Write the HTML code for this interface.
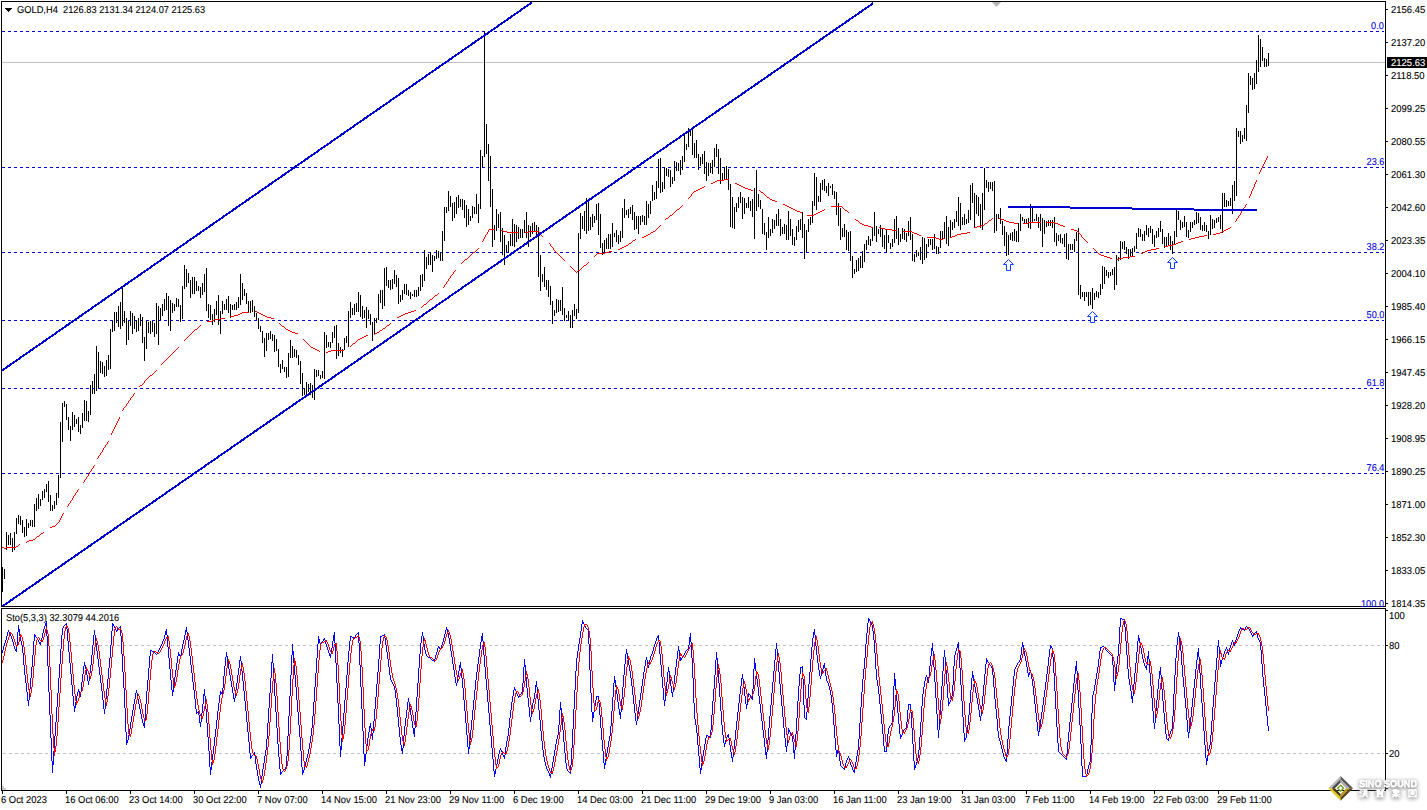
<!DOCTYPE html><html><head><meta charset="utf-8"><title>GOLD,H4</title>
<style>html,body{margin:0;padding:0;background:#fff;}body{width:1427px;height:810px;overflow:hidden;position:relative;font-family:"Liberation Sans",sans-serif;}
svg{position:absolute;left:0;top:0;}
.t{position:absolute;white-space:nowrap;font-size:10px;line-height:10px;color:#000;transform-origin:0 50%;-webkit-text-stroke:0.1px currentColor;transform:matrix(1,0.0005,0,1,0,0);}
.pl{transform:matrix(0.95,0.0005,0,1,0,0);}.tl{transform:matrix(0.94,0.0005,0,1,0,0);}.ti{transform:matrix(0.93,0.0005,0,1,0,0);}.f{color:#0000dc;transform-origin:100% 50%;transform:matrix(0.92,0.0005,0,1,0,0);}
</style></head><body>
<svg width="1427" height="810" viewBox="0 0 1427 810">
<g stroke="#0000cd" stroke-width="1" stroke-dasharray="3 3" shape-rendering="crispEdges">
<line x1="2" y1="31.5" x2="1384" y2="31.5"/>
<line x1="2" y1="167.5" x2="1384" y2="167.5"/>
<line x1="2" y1="252.5" x2="1384" y2="252.5"/>
<line x1="2" y1="320.5" x2="1384" y2="320.5"/>
<line x1="2" y1="388.5" x2="1384" y2="388.5"/>
<line x1="2" y1="473.5" x2="1384" y2="473.5"/>
</g>
<line x1="2" y1="62.5" x2="1385" y2="62.5" stroke="#c0c0c0" stroke-width="1" shape-rendering="crispEdges"/>
<g stroke="#c0c0c0" stroke-width="1" stroke-dasharray="3 3" shape-rendering="crispEdges">
<line x1="3" y1="645.5" x2="1384" y2="645.5"/><line x1="3" y1="753.5" x2="1384" y2="753.5"/>
</g>
<path d="M2.5 567V592M4.5 569V579M6.5 532V550M8.5 535V545M10.5 533V545M12.5 538V552M14.5 532V550M16.5 518V534M18.5 515V524M20.5 516V525M22.5 520V533M24.5 527V537M26.5 519V536M28.5 523V528M30.5 520V526M32.5 520V527M34.5 504V527M36.5 498V511M38.5 494V509M40.5 499V506M42.5 491V500M44.5 489V498M46.5 484V492M48.5 481V502M50.5 495V511M52.5 505V511M54.5 501V509M56.5 493V505M58.5 475V498M60.5 422V478M62.5 403V442M64.5 401V407M66.5 404V420M68.5 417V430M70.5 426V441M72.5 412V430M74.5 415V427M76.5 419V424M78.5 417V432M80.5 425V434M82.5 413V428M84.5 400V421M86.5 401V421M88.5 411V422M90.5 385V415M92.5 381V394M94.5 374V394M96.5 346V391M98.5 352V388M100.5 361V373M102.5 362V374M104.5 366V377M106.5 360V376M108.5 355V370M110.5 329V369M112.5 321V332M114.5 312V331M116.5 312V323M118.5 306V327M120.5 302V329M122.5 288V326M124.5 311V323M126.5 318V345M128.5 321V340M130.5 311V326M132.5 313V334M134.5 316V329M136.5 320V332M138.5 318V331M140.5 314V326M142.5 317V343M144.5 337V361M146.5 321V349M148.5 322V333M150.5 321V334M152.5 321V332M154.5 323V337M156.5 303V334M158.5 306V345M160.5 308V320M162.5 304V316M164.5 299V311M166.5 293V310M168.5 296V326M170.5 300V331M172.5 303V313M174.5 304V311M176.5 298V307M178.5 299V307M180.5 305V322M182.5 286V319M184.5 265V289M186.5 269V287M188.5 273V283M190.5 280V298M192.5 277V294M194.5 277V294M196.5 281V291M198.5 286V291M200.5 287V298M202.5 283V295M204.5 274V292M206.5 268V311M208.5 304V318M210.5 305V320M212.5 314V325M214.5 309V322M216.5 301V315M218.5 295V325M220.5 311V334M222.5 301V314M224.5 304V310M226.5 299V310M228.5 296V313M230.5 304V318M232.5 305V310M234.5 304V310M236.5 302V310M238.5 297V308M240.5 274V305M242.5 283V300M244.5 289V296M246.5 293V304M248.5 301V312M250.5 301V313M252.5 300V312M254.5 306V317M256.5 313V320M258.5 318V329M260.5 326V332M262.5 331V343M264.5 338V357M266.5 333V351M268.5 333V340M270.5 331V339M272.5 334V341M274.5 335V352M276.5 339V351M278.5 349V367M280.5 364V373M282.5 360V369M284.5 367V372M286.5 367V378M288.5 353V377M290.5 340V358M292.5 346V358M294.5 349V357M296.5 350V358M298.5 355V365M300.5 361V384M302.5 373V396M304.5 388V395M306.5 382V394M308.5 384V392M310.5 383V395M312.5 385V398M314.5 369V400M316.5 370V377M318.5 370V376M320.5 375V379M322.5 371V378M324.5 332V379M326.5 335V348M328.5 342V347M330.5 342V348M332.5 332V343M334.5 326V338M336.5 325V359M338.5 343V356M340.5 347V353M342.5 349V357M344.5 338V350M346.5 336V343M348.5 311V347M350.5 302V318M352.5 308V315M354.5 304V315M356.5 303V312M358.5 292V312M360.5 295V317M362.5 306V319M364.5 310V318M366.5 307V328M368.5 310V319M370.5 314V325M372.5 322V341M374.5 318V335M376.5 318V323M378.5 294V320M380.5 290V303M382.5 290V309M384.5 268V306M386.5 267V286M388.5 280V288M390.5 280V290M392.5 279V289M394.5 270V284M396.5 275V287M398.5 278V304M400.5 295V302M402.5 290V300M404.5 284V294M406.5 284V295M408.5 290V296M410.5 292V299M412.5 294V296M414.5 290V297M416.5 290V297M418.5 287V296M420.5 275V291M422.5 274V287M424.5 250V281M426.5 257V269M428.5 254V265M430.5 252V265M432.5 255V272M434.5 256V261M436.5 250V259M438.5 251V258M440.5 252V261M442.5 231V261M444.5 207V241M446.5 207V213M448.5 191V211M450.5 196V207M452.5 203V221M454.5 202V218M456.5 197V214M458.5 195V208M460.5 199V207M462.5 199V210M464.5 200V218M466.5 205V227M468.5 209V225M470.5 216V221M472.5 206V218M474.5 207V214M476.5 194V214M478.5 204V223M480.5 150V209M482.5 156V167M484.5 31V157M486.5 124V154M488.5 144V181M490.5 156V207M492.5 189V247M494.5 225V240M496.5 209V231M498.5 214V228M500.5 212V242M502.5 228V255M504.5 235V265M506.5 245V252M508.5 241V252M510.5 234V246M512.5 219V246M514.5 224V247M516.5 225V242M518.5 227V239M520.5 229V238M522.5 229V238M524.5 220V233M526.5 212V238M528.5 225V247M530.5 226V237M532.5 223V234M534.5 222V232M536.5 225V235M538.5 227V277M540.5 255V291M542.5 274V282M544.5 267V287M546.5 280V290M548.5 280V297M550.5 286V305M552.5 301V324M554.5 310V316M556.5 299V313M558.5 300V312M560.5 300V311M562.5 287V315M564.5 308V321M566.5 315V318M568.5 311V321M570.5 315V328M572.5 310V328M574.5 304V316M576.5 309V319M578.5 233V313M580.5 213V239M582.5 216V229M584.5 211V231M586.5 198V234M588.5 200V231M590.5 217V230M592.5 214V227M594.5 216V223M596.5 204V220M598.5 203V235M600.5 214V248M602.5 243V255M604.5 240V254M606.5 238V249M608.5 234V249M610.5 234V249M612.5 223V247M614.5 233V237M616.5 230V242M618.5 235V244M620.5 231V242M622.5 208V238M624.5 199V218M626.5 210V215M628.5 209V218M630.5 207V214M632.5 205V220M634.5 212V230M636.5 216V229M638.5 216V234M640.5 216V225M642.5 215V222M644.5 216V225M646.5 201V225M648.5 204V218M650.5 201V214M652.5 185V201M654.5 192V200M656.5 181V199M658.5 159V188M660.5 158V193M662.5 182V192M664.5 167V189M666.5 168V176M668.5 169V177M670.5 170V187M672.5 177V184M674.5 161V181M676.5 162V171M678.5 163V171M680.5 160V175M682.5 156V170M684.5 134V162M686.5 144V150M688.5 128V147M690.5 130V136M692.5 130V155M694.5 143V158M696.5 140V158M698.5 154V170M700.5 157V166M702.5 154V164M704.5 151V174M706.5 162V181M708.5 163V176M710.5 163V173M712.5 160V174M714.5 148V167M716.5 144V157M718.5 149V174M720.5 158V184M722.5 173V181M724.5 167V180M726.5 166V180M728.5 169V190M730.5 184V227M732.5 197V228M734.5 207V229M736.5 203V212M738.5 197V208M740.5 192V203M742.5 197V219M744.5 198V214M746.5 203V208M748.5 197V208M750.5 201V211M752.5 199V217M754.5 188V239M756.5 170V211M758.5 194V207M760.5 200V209M762.5 209V234M764.5 223V235M766.5 232V250M768.5 217V238M770.5 229V236M772.5 219V233M774.5 220V229M776.5 214V226M778.5 209V226M780.5 219V236M782.5 227V234M784.5 224V234M786.5 225V240M788.5 211V240M790.5 219V236M792.5 229V245M794.5 237V246M796.5 226V240M798.5 220V232M800.5 219V230M802.5 212V238M804.5 224V259M806.5 230V252M808.5 219V232M810.5 217V225M812.5 201V223M814.5 173V206M816.5 177V210M818.5 196V202M820.5 183V202M822.5 180V190M824.5 179V191M826.5 186V193M828.5 183V196M830.5 186V188M832.5 184V195M834.5 191V199M836.5 192V215M838.5 203V226M840.5 208V240M842.5 228V237M844.5 224V237M846.5 230V250M848.5 232V251M850.5 231V261M852.5 256V278M854.5 269V274M856.5 260V272M858.5 258V271M860.5 256V268M862.5 251V268M864.5 244V262M866.5 240V250M868.5 236V245M870.5 239V246M872.5 228V241M874.5 212V236M876.5 226V242M878.5 229V234M880.5 225V237M882.5 228V247M884.5 235V249M886.5 230V252M888.5 235V243M890.5 243V249M892.5 239V247M894.5 219V243M896.5 216V239M898.5 228V245M900.5 234V242M902.5 228V239M904.5 229V240M906.5 233V242M908.5 221V236M910.5 217V240M912.5 234V261M914.5 254V262M916.5 250V257M918.5 252V256M920.5 247V260M922.5 237V264M924.5 238V260M926.5 244V258M928.5 239V247M930.5 239V245M932.5 239V250M934.5 234V249M936.5 246V254M938.5 247V254M940.5 231V248M942.5 231V239M944.5 222V239M946.5 216V244M948.5 227V246M950.5 220V237M952.5 222V230M954.5 219V228M956.5 211V222M958.5 197V226M960.5 203V230M962.5 217V225M964.5 214V225M966.5 219V224M968.5 210V223M970.5 185V220M972.5 183V203M974.5 193V228M976.5 195V214M978.5 197V216M980.5 204V228M982.5 193V230M984.5 168V210M986.5 180V188M988.5 182V192M990.5 182V189M992.5 182V191M994.5 181V233M996.5 214V231M998.5 214V219M1000.5 208V224M1002.5 221V235M1004.5 226V246M1006.5 232V256M1008.5 235V255M1010.5 233V240M1012.5 232V241M1014.5 229V241M1016.5 231V242M1018.5 223V242M1020.5 214V231M1022.5 217V221M1024.5 219V223M1026.5 219V224M1028.5 218V228M1030.5 204V229M1032.5 208V222M1034.5 219V221M1036.5 214V221M1038.5 217V228M1040.5 214V231M1042.5 218V247M1044.5 220V234M1046.5 221V227M1048.5 220V226M1050.5 220V226M1052.5 220V228M1054.5 217V242M1056.5 233V246M1058.5 235V241M1060.5 234V243M1062.5 238V244M1064.5 234V247M1066.5 233V259M1068.5 244V260M1070.5 244V250M1072.5 244V250M1074.5 239V252M1076.5 232V241M1078.5 228V295M1080.5 285V299M1082.5 292V297M1084.5 292V301M1086.5 292V297M1088.5 292V306M1090.5 292V305M1092.5 288V309M1094.5 293V300M1096.5 291V297M1098.5 292V298M1100.5 284V295M1102.5 266V289M1104.5 267V284M1106.5 270V276M1108.5 272V278M1110.5 272V276M1112.5 269V275M1114.5 267V290M1116.5 255V285M1118.5 257V261M1120.5 241V260M1122.5 242V249M1124.5 241V250M1126.5 247V254M1128.5 249V259M1130.5 249V256M1132.5 248V256M1134.5 246V252M1136.5 233V249M1138.5 228V237M1140.5 229V237M1142.5 234V241M1144.5 231V241M1146.5 225V235M1148.5 228V237M1150.5 226V233M1152.5 229V244M1154.5 235V247M1156.5 231V238M1158.5 228V237M1160.5 221V232M1162.5 229V244M1164.5 237V248M1166.5 237V247M1168.5 233V245M1170.5 236V250M1172.5 241V254M1174.5 231V244M1176.5 210V237M1178.5 211V220M1180.5 220V230M1182.5 222V228M1184.5 216V227M1186.5 222V237M1188.5 230V238M1190.5 222V232M1192.5 222V228M1194.5 220V225M1196.5 212V224M1198.5 213V223M1200.5 217V230M1202.5 225V231M1204.5 222V231M1206.5 225V232M1208.5 231V239M1210.5 215V235M1212.5 219V229M1214.5 220V228M1216.5 218V223M1218.5 217V222M1220.5 215V229M1222.5 193V233M1224.5 193V207M1226.5 200V207M1228.5 201V206M1230.5 198V206M1232.5 185V214M1234.5 181V201M1236.5 128V196M1238.5 131V137M1240.5 131V144M1242.5 135V142M1244.5 128V139M1246.5 105V141M1248.5 73V113M1250.5 76V85M1252.5 78V90M1254.5 73V89M1256.5 60V84M1258.5 35V72M1260.5 39V67M1262.5 47V61M1264.5 58V67M1266.5 59V67M1268.5 53V66" stroke="#000" stroke-width="1" fill="none" shape-rendering="crispEdges"/>
<path d="M1267 156.5H1268M1267 157.5H1268M1266 158.5H1267M1266 159.5H1267M1265 160.5H1266M1265 161.5H1266M1264 162.5H1265M1264 163.5H1265M1263 164.5H1264M1263 165.5H1264M1262 166.5H1263M1262 167.5H1263M1261 168.5H1262M1261 169.5H1262M1260 170.5H1261M1260 171.5H1261M1259 172.5H1260M1259 173.5H1260M724 179.5H729M717 180.5H724M1256 180.5H1257M715 181.5H717M1256 181.5H1257M713 182.5H715M1255 182.5H1256M711 183.5H713M735 183.5H737M1255 183.5H1256M737 184.5H739M1254 184.5H1255M739 185.5H741M1254 185.5H1255M704 186.5H705M741 186.5H743M1254 186.5H1255M702 187.5H704M743 187.5H745M1253 187.5H1254M700 188.5H702M745 188.5H748M1253 188.5H1254M698 189.5H700M748 189.5H751M1252 189.5H1253M696 190.5H698M751 190.5H753M759 190.5H760M1252 190.5H1253M694 191.5H696M760 191.5H761M1251 191.5H1252M693 192.5H694M761 192.5H763M1251 192.5H1252M692 193.5H693M763 193.5H764M1251 193.5H1252M691 194.5H692M764 194.5H765M1250 194.5H1251M691 195.5H692M765 195.5H766M1250 195.5H1251M690 196.5H691M766 196.5H767M1249 196.5H1250M689 197.5H690M767 197.5H769M1249 197.5H1250M688 198.5H689M769 198.5H770M770 199.5H772M772 200.5H775M775 201.5H777M783 204.5H785M1246 204.5H1247M682 205.5H683M785 205.5H787M1245 205.5H1246M681 206.5H682M787 206.5H789M831 206.5H842M1245 206.5H1246M680 207.5H681M789 207.5H791M842 207.5H843M1244 207.5H1245M679 208.5H680M791 208.5H793M843 208.5H844M1243 208.5H1244M677 209.5H679M793 209.5H795M824 209.5H825M844 209.5H845M1243 209.5H1244M676 210.5H677M795 210.5H797M822 210.5H824M845 210.5H847M1242 210.5H1243M675 211.5H676M797 211.5H800M820 211.5H822M847 211.5H848M1241 211.5H1242M674 212.5H675M800 212.5H802M818 212.5H820M848 212.5H849M1241 212.5H1242M673 213.5H674M816 213.5H818M1240 213.5H1241M672 214.5H673M814 214.5H816M1240 214.5H1241M670 215.5H672M807 215.5H814M1239 215.5H1240M669 216.5H670M1238 216.5H1239M668 217.5H669M1238 217.5H1239M666 218.5H668M992 218.5H993M999 218.5H1001M1237 218.5H1238M665 219.5H666M855 219.5H856M991 219.5H992M1001 219.5H1004M1236 219.5H1237M856 220.5H858M989 220.5H991M1004 220.5H1006M1236 220.5H1237M858 221.5H859M988 221.5H989M1006 221.5H1009M1235 221.5H1236M859 222.5H860M987 222.5H988M1009 222.5H1014M1028 222.5H1041M1046 222.5H1055M860 223.5H862M985 223.5H987M1014 223.5H1018M1023 223.5H1028M1055 223.5H1058M862 224.5H864M984 224.5H985M1058 224.5H1060M660 225.5H661M864 225.5H868M981 225.5H984M1060 225.5H1063M659 226.5H660M868 226.5H871M977 226.5H981M1063 226.5H1065M658 227.5H659M871 227.5H873M879 227.5H881M974 227.5H977M1230 227.5H1231M657 228.5H658M881 228.5H885M1228 228.5H1230M489 229.5H495M656 229.5H657M885 229.5H892M1071 229.5H1074M1226 229.5H1228M488 230.5H489M501 230.5H503M655 230.5H656M892 230.5H897M1074 230.5H1077M1224 230.5H1226M488 231.5H489M503 231.5H507M529 231.5H539M653 231.5H655M903 231.5H912M1077 231.5H1078M1222 231.5H1224M487 232.5H488M507 232.5H519M525 232.5H529M539 232.5H540M651 232.5H653M912 232.5H914M967 232.5H970M1078 232.5H1079M1220 232.5H1222M487 233.5H488M540 233.5H541M650 233.5H651M914 233.5H917M961 233.5H967M1079 233.5H1080M1216 233.5H1220M486 234.5H487M540 234.5H541M648 234.5H650M917 234.5H919M957 234.5H961M1080 234.5H1081M1213 234.5H1216M485 235.5H486M541 235.5H542M646 235.5H648M919 235.5H921M955 235.5H957M1081 235.5H1082M1204 235.5H1207M485 236.5H486M542 236.5H543M644 236.5H646M952 236.5H955M1081 236.5H1082M1199 236.5H1204M484 237.5H485M642 237.5H644M927 237.5H936M950 237.5H952M1082 237.5H1083M1195 237.5H1199M484 238.5H485M936 238.5H939M943 238.5H945M1083 238.5H1084M1191 238.5H1195M483 239.5H484M635 239.5H636M939 239.5H943M1084 239.5H1085M1189 239.5H1191M483 240.5H484M633 240.5H635M1085 240.5H1086M482 241.5H483M632 241.5H633M1086 241.5H1087M1181 241.5H1183M631 242.5H632M1087 242.5H1088M1178 242.5H1181M549 243.5H550M629 243.5H631M1176 243.5H1178M550 244.5H551M628 244.5H629M1173 244.5H1176M550 245.5H551M626 245.5H628M1168 245.5H1173M551 246.5H552M624 246.5H626M1164 246.5H1168M552 247.5H553M622 247.5H624M478 248.5H479M553 248.5H554M620 248.5H622M1093 248.5H1094M1156 248.5H1159M477 249.5H478M553 249.5H554M618 249.5H620M1094 249.5H1095M1151 249.5H1156M476 250.5H477M554 250.5H555M1095 250.5H1096M1147 250.5H1151M475 251.5H476M555 251.5H556M609 251.5H612M1096 251.5H1097M1145 251.5H1147M473 252.5H475M556 252.5H557M605 252.5H609M1097 252.5H1098M1143 252.5H1145M472 253.5H473M557 253.5H558M597 253.5H605M1098 253.5H1099M1141 253.5H1143M471 254.5H472M558 254.5H559M596 254.5H597M1099 254.5H1101M470 255.5H471M559 255.5H560M595 255.5H596M1101 255.5H1104M469 256.5H470M560 256.5H561M594 256.5H595M1104 256.5H1107M1130 256.5H1135M468 257.5H469M561 257.5H562M1107 257.5H1110M1123 257.5H1130M467 258.5H468M562 258.5H563M1110 258.5H1112M1119 258.5H1123M465 259.5H467M563 259.5H564M1117 259.5H1119M464 260.5H465M564 260.5H565M463 261.5H464M462 262.5H463M588 262.5H589M461 263.5H462M587 263.5H588M586 264.5H587M584 265.5H586M570 266.5H571M583 266.5H584M571 267.5H572M582 267.5H583M572 268.5H573M581 268.5H582M573 269.5H574M580 269.5H581M455 270.5H456M574 270.5H575M578 270.5H580M454 271.5H455M575 271.5H576M577 271.5H578M453 272.5H454M576 272.5H577M453 273.5H454M452 274.5H453M451 275.5H452M450 276.5H451M450 277.5H451M449 278.5H450M448 279.5H449M448 280.5H449M447 281.5H448M446 282.5H447M446 283.5H447M445 284.5H446M444 285.5H445M444 286.5H445M443 287.5H444M438 293.5H439M437 294.5H438M435 295.5H437M434 296.5H435M433 297.5H434M432 298.5H433M430 299.5H432M429 300.5H430M428 301.5H429M427 302.5H428M426 303.5H427M424 304.5H426M423 305.5H424M422 306.5H423M421 307.5H422M414 310.5H416M255 311.5H257M411 311.5H414M242 312.5H249M257 312.5H259M408 312.5H411M240 313.5H242M259 313.5H261M405 313.5H408M238 314.5H240M261 314.5H263M403 314.5H405M234 315.5H238M263 315.5H265M401 315.5H403M230 316.5H234M265 316.5H267M399 316.5H401M267 317.5H271M397 317.5H399M220 318.5H225M271 318.5H274M214 319.5H220M212 320.5H214M207 321.5H212M279 323.5H280M390 323.5H391M280 324.5H281M389 324.5H390M200 325.5H201M281 325.5H282M387 325.5H389M199 326.5H200M282 326.5H284M386 326.5H387M198 327.5H199M284 327.5H285M385 327.5H386M197 328.5H198M285 328.5H286M383 328.5H385M195 329.5H197M286 329.5H288M382 329.5H383M194 330.5H195M288 330.5H290M380 330.5H382M193 331.5H194M290 331.5H292M379 331.5H380M192 332.5H193M292 332.5H295M377 332.5H379M191 333.5H192M295 333.5H298M375 333.5H377M190 334.5H191M374 334.5H375M189 335.5H190M366 335.5H368M188 336.5H189M364 336.5H366M187 337.5H188M362 337.5H364M186 338.5H187M360 338.5H362M185 339.5H186M303 339.5H304M358 339.5H360M184 340.5H185M304 340.5H305M357 340.5H358M305 341.5H306M356 341.5H357M306 342.5H307M355 342.5H356M307 343.5H308M353 343.5H355M308 344.5H309M352 344.5H353M309 345.5H310M351 345.5H352M310 346.5H311M350 346.5H351M178 347.5H179M311 347.5H313M177 348.5H178M313 348.5H315M176 349.5H177M315 349.5H317M175 350.5H176M317 350.5H319M331 350.5H344M174 351.5H175M319 351.5H320M328 351.5H331M173 352.5H174M326 352.5H328M172 353.5H173M171 354.5H172M170 355.5H171M169 356.5H170M168 357.5H169M167 358.5H168M166 359.5H167M165 360.5H166M164 361.5H165M163 362.5H164M162 363.5H163M161 364.5H162M156 370.5H157M155 371.5H156M154 372.5H155M153 373.5H154M152 374.5H153M150 375.5H152M149 376.5H150M148 377.5H149M147 378.5H148M146 379.5H147M145 380.5H146M144 381.5H145M144 382.5H145M143 383.5H144M142 384.5H143M140 385.5H142M139 386.5H140M134 393.5H135M133 394.5H134M133 395.5H134M132 396.5H133M131 397.5H132M130 398.5H131M130 399.5H131M129 400.5H130M128 401.5H129M128 402.5H129M127 403.5H128M126 404.5H127M126 405.5H127M125 406.5H126M124 407.5H125M123 408.5H124M123 409.5H124M122 410.5H123M119 417.5H120M119 418.5H120M118 419.5H119M118 420.5H119M117 421.5H118M117 422.5H118M116 423.5H117M116 424.5H117M115 425.5H116M115 426.5H116M114 427.5H115M114 428.5H115M113 429.5H114M113 430.5H114M112 431.5H113M112 432.5H113M111 433.5H112M111 434.5H112M108 441.5H109M107 442.5H108M107 443.5H108M106 444.5H107M105 445.5H106M105 446.5H106M104 447.5H105M103 448.5H104M103 449.5H104M102 450.5H103M102 451.5H103M101 452.5H102M100 453.5H101M100 454.5H101M99 455.5H100M98 456.5H99M98 457.5H99M97 458.5H98M94 465.5H95M93 466.5H94M93 467.5H94M92 468.5H93M91 469.5H92M91 470.5H92M90 471.5H91M89 472.5H90M89 473.5H90M88 474.5H89M88 475.5H89M87 476.5H88M86 477.5H87M86 478.5H87M85 479.5H86M84 480.5H85M84 481.5H85M83 482.5H84M78 489.5H79M77 490.5H78M77 491.5H78M76 492.5H77M75 493.5H76M75 494.5H76M74 495.5H75M73 496.5H74M73 497.5H74M72 498.5H73M72 499.5H73M71 500.5H72M70 501.5H71M70 502.5H71M69 503.5H70M68 504.5H69M68 505.5H69M67 506.5H68M63 513.5H64M62 514.5H63M62 515.5H63M61 516.5H62M61 517.5H62M60 518.5H61M60 519.5H61M59 520.5H60M59 521.5H60M58 522.5H59M57 523.5H58M56 524.5H57M55 525.5H56M52 526.5H55M50 527.5H52M43 532.5H44M41 533.5H43M40 534.5H41M39 535.5H40M37 536.5H39M36 537.5H37M35 538.5H36M33 539.5H35M29 540.5H33M27 541.5H29M26 542.5H27M19 544.5H20M18 545.5H19M16 546.5H18M2 547.5H4M6 547.5H16M4 548.5H6" stroke="#ff0000" stroke-width="1" fill="none" shape-rendering="crispEdges"/>
<path d="M530 2.5H532M529 3.5H532M527 4.5H531M526 5.5H529M524 6.5H528M523 7.5H526M521 8.5H525M520 9.5H523M519 10.5H522M517 11.5H521M516 12.5H519M514 13.5H518M513 14.5H516M511 15.5H515M510 16.5H513M508 17.5H512M507 18.5H511M506 19.5H509M504 20.5H508M503 21.5H506M501 22.5H505M500 23.5H503M498 24.5H502M497 25.5H500M496 26.5H499M494 27.5H498M493 28.5H496M491 29.5H495M490 30.5H493M488 31.5H492M487 32.5H490M485 33.5H489M484 34.5H488M483 35.5H486M481 36.5H485M480 37.5H483M478 38.5H482M477 39.5H480M475 40.5H479M474 41.5H477M472 42.5H476M471 43.5H475M470 44.5H473M468 45.5H472M467 46.5H470M465 47.5H469M464 48.5H467M462 49.5H466M461 50.5H464M460 51.5H463M458 52.5H462M457 53.5H460M455 54.5H459M454 55.5H457M452 56.5H456M451 57.5H454M449 58.5H453M448 59.5H452M447 60.5H450M445 61.5H449M444 62.5H447M442 63.5H446M441 64.5H444M439 65.5H443M438 66.5H441M436 67.5H440M435 68.5H439M434 69.5H437M432 70.5H436M431 71.5H434M429 72.5H433M428 73.5H431M426 74.5H430M425 75.5H428M424 76.5H427M422 77.5H426M421 78.5H424M419 79.5H423M418 80.5H421M416 81.5H420M415 82.5H418M413 83.5H417M412 84.5H416M411 85.5H414M409 86.5H413M408 87.5H411M406 88.5H410M405 89.5H408M403 90.5H407M402 91.5H405M400 92.5H404M399 93.5H403M398 94.5H401M396 95.5H400M395 96.5H398M393 97.5H397M392 98.5H395M390 99.5H394M389 100.5H392M388 101.5H391M386 102.5H390M385 103.5H388M383 104.5H387M382 105.5H385M380 106.5H384M379 107.5H382M377 108.5H381M376 109.5H380M375 110.5H378M373 111.5H377M372 112.5H375M370 113.5H374M369 114.5H372M367 115.5H371M366 116.5H369M364 117.5H368M363 118.5H367M362 119.5H365M360 120.5H364M359 121.5H362M357 122.5H361M356 123.5H359M354 124.5H358M353 125.5H356M352 126.5H355M350 127.5H354M349 128.5H352M347 129.5H351M346 130.5H349M344 131.5H348M343 132.5H346M341 133.5H345M340 134.5H344M339 135.5H342M337 136.5H341M336 137.5H339M334 138.5H338M333 139.5H336M331 140.5H335M330 141.5H333M329 142.5H332M327 143.5H331M326 144.5H329M324 145.5H328M323 146.5H326M321 147.5H325M320 148.5H323M318 149.5H322M317 150.5H320M316 151.5H319M314 152.5H318M313 153.5H316M311 154.5H315M310 155.5H313M308 156.5H312M307 157.5H310M305 158.5H309M304 159.5H308M303 160.5H306M301 161.5H305M300 162.5H303M298 163.5H302M297 164.5H300M295 165.5H299M294 166.5H297M293 167.5H296M291 168.5H295M290 169.5H293M288 170.5H292M287 171.5H290M285 172.5H289M284 173.5H287M282 174.5H286M281 175.5H285M280 176.5H283M278 177.5H282M277 178.5H280M275 179.5H279M274 180.5H277M272 181.5H276M271 182.5H274M269 183.5H273M268 184.5H272M267 185.5H270M265 186.5H269M264 187.5H267M262 188.5H266M261 189.5H264M259 190.5H263M258 191.5H261M257 192.5H260M255 193.5H259M254 194.5H257M252 195.5H256M251 196.5H254M249 197.5H253M248 198.5H251M246 199.5H250M245 200.5H249M244 201.5H247M242 202.5H246M241 203.5H244M239 204.5H243M238 205.5H241M236 206.5H240M235 207.5H238M233 208.5H237M232 209.5H236M231 210.5H234M229 211.5H233M228 212.5H231M226 213.5H230M225 214.5H228M223 215.5H227M222 216.5H225M221 217.5H224M219 218.5H223M218 219.5H221M216 220.5H220M215 221.5H218M213 222.5H217M212 223.5H215M210 224.5H214M209 225.5H213M208 226.5H211M206 227.5H210M205 228.5H208M203 229.5H207M202 230.5H205M200 231.5H204M199 232.5H202M197 233.5H201M196 234.5H200M195 235.5H198M193 236.5H197M192 237.5H195M190 238.5H194M189 239.5H192M187 240.5H191M186 241.5H189M185 242.5H188M183 243.5H187M182 244.5H185M180 245.5H184M179 246.5H182M177 247.5H181M176 248.5H179M174 249.5H178M173 250.5H177M172 251.5H175M170 252.5H174M169 253.5H172M167 254.5H171M166 255.5H169M164 256.5H168M163 257.5H166M161 258.5H165M160 259.5H164M159 260.5H162M157 261.5H161M156 262.5H159M154 263.5H158M153 264.5H156M151 265.5H155M150 266.5H153M149 267.5H152M147 268.5H151M146 269.5H149M144 270.5H148M143 271.5H146M141 272.5H145M140 273.5H143M138 274.5H142M137 275.5H141M136 276.5H139M134 277.5H138M133 278.5H136M131 279.5H135M130 280.5H133M128 281.5H132M127 282.5H130M125 283.5H129M124 284.5H128M123 285.5H126M121 286.5H125M120 287.5H123M118 288.5H122M117 289.5H120M115 290.5H119M114 291.5H117M113 292.5H116M111 293.5H115M110 294.5H113M108 295.5H112M107 296.5H110M105 297.5H109M104 298.5H107M102 299.5H106M101 300.5H105M100 301.5H103M98 302.5H102M97 303.5H100M95 304.5H99M94 305.5H97M92 306.5H96M91 307.5H94M90 308.5H93M88 309.5H92M87 310.5H90M85 311.5H89M84 312.5H87M82 313.5H86M81 314.5H84M79 315.5H83M78 316.5H82M77 317.5H80M75 318.5H79M74 319.5H77M72 320.5H76M71 321.5H74M69 322.5H73M68 323.5H71M66 324.5H70M65 325.5H69M64 326.5H67M62 327.5H66M61 328.5H64M59 329.5H63M58 330.5H61M56 331.5H60M55 332.5H58M54 333.5H57M52 334.5H56M51 335.5H54M49 336.5H53M48 337.5H51M46 338.5H50M45 339.5H48M43 340.5H47M42 341.5H46M41 342.5H44M39 343.5H43M38 344.5H41M36 345.5H40M35 346.5H38M33 347.5H37M32 348.5H35M30 349.5H34M29 350.5H33M28 351.5H31M26 352.5H30M25 353.5H28M23 354.5H27M22 355.5H25M20 356.5H24M19 357.5H22M18 358.5H21M16 359.5H20M15 360.5H18M13 361.5H17M12 362.5H15M10 363.5H14M9 364.5H12M7 365.5H11M6 366.5H10M5 367.5H8M3 368.5H7M2 369.5H5M2 370.5H4" stroke="#0000cd" stroke-width="1" fill="none" shape-rendering="crispEdges"/>
<path d="M872 2.5H873M871 3.5H873M870 4.5H873M868 5.5H872M867 6.5H870M865 7.5H869M864 8.5H867M862 9.5H866M861 10.5H864M859 11.5H863M858 12.5H862M857 13.5H860M855 14.5H859M854 15.5H857M852 16.5H856M851 17.5H854M849 18.5H853M848 19.5H851M846 20.5H850M845 21.5H849M844 22.5H847M842 23.5H846M841 24.5H844M839 25.5H843M838 26.5H841M836 27.5H840M835 28.5H838M833 29.5H837M832 30.5H836M831 31.5H834M829 32.5H833M828 33.5H831M826 34.5H830M825 35.5H828M823 36.5H827M822 37.5H825M820 38.5H824M819 39.5H823M818 40.5H821M816 41.5H820M815 42.5H818M813 43.5H817M812 44.5H815M810 45.5H814M809 46.5H812M807 47.5H811M806 48.5H810M805 49.5H808M803 50.5H807M802 51.5H805M800 52.5H804M799 53.5H802M797 54.5H801M796 55.5H799M794 56.5H798M793 57.5H797M792 58.5H795M790 59.5H794M789 60.5H792M787 61.5H791M786 62.5H789M784 63.5H788M783 64.5H786M781 65.5H785M780 66.5H784M779 67.5H782M777 68.5H781M776 69.5H779M774 70.5H778M773 71.5H776M771 72.5H775M770 73.5H773M768 74.5H772M767 75.5H771M766 76.5H769M764 77.5H768M763 78.5H766M761 79.5H765M760 80.5H763M758 81.5H762M757 82.5H760M755 83.5H759M754 84.5H758M753 85.5H756M751 86.5H755M750 87.5H753M748 88.5H752M747 89.5H750M745 90.5H749M744 91.5H747M742 92.5H746M741 93.5H745M740 94.5H743M738 95.5H742M737 96.5H740M735 97.5H739M734 98.5H737M732 99.5H736M731 100.5H734M729 101.5H733M728 102.5H732M727 103.5H730M725 104.5H729M724 105.5H727M722 106.5H726M721 107.5H724M719 108.5H723M718 109.5H721M716 110.5H720M715 111.5H719M714 112.5H717M712 113.5H716M711 114.5H714M709 115.5H713M708 116.5H711M706 117.5H710M705 118.5H708M704 119.5H707M702 120.5H706M701 121.5H704M699 122.5H703M698 123.5H701M696 124.5H700M695 125.5H698M693 126.5H697M692 127.5H695M691 128.5H694M689 129.5H693M688 130.5H691M686 131.5H690M685 132.5H688M683 133.5H687M682 134.5H685M680 135.5H684M679 136.5H682M678 137.5H681M676 138.5H680M675 139.5H678M673 140.5H677M672 141.5H675M670 142.5H674M669 143.5H672M667 144.5H671M666 145.5H669M665 146.5H668M663 147.5H667M662 148.5H665M660 149.5H664M659 150.5H662M657 151.5H661M656 152.5H659M654 153.5H658M653 154.5H656M652 155.5H655M650 156.5H654M649 157.5H652M647 158.5H651M646 159.5H649M644 160.5H648M643 161.5H646M641 162.5H645M640 163.5H644M639 164.5H642M637 165.5H641M636 166.5H639M634 167.5H638M633 168.5H636M631 169.5H635M630 170.5H633M628 171.5H632M627 172.5H631M626 173.5H629M624 174.5H628M623 175.5H626M621 176.5H625M620 177.5H623M618 178.5H622M617 179.5H620M615 180.5H619M614 181.5H618M613 182.5H616M611 183.5H615M610 184.5H613M608 185.5H612M607 186.5H610M605 187.5H609M604 188.5H607M602 189.5H606M601 190.5H605M600 191.5H603M598 192.5H602M597 193.5H600M595 194.5H599M594 195.5H597M592 196.5H596M591 197.5H594M589 198.5H593M588 199.5H592M587 200.5H590M585 201.5H589M584 202.5H587M582 203.5H586M581 204.5H584M579 205.5H583M578 206.5H581M576 207.5H580M575 208.5H579M574 209.5H577M572 210.5H576M571 211.5H574M569 212.5H573M568 213.5H571M566 214.5H570M565 215.5H568M563 216.5H567M562 217.5H566M561 218.5H564M559 219.5H563M558 220.5H561M556 221.5H560M555 222.5H558M553 223.5H557M552 224.5H555M550 225.5H554M549 226.5H553M548 227.5H551M546 228.5H550M545 229.5H548M543 230.5H547M542 231.5H545M540 232.5H544M539 233.5H542M537 234.5H541M536 235.5H540M535 236.5H538M533 237.5H537M532 238.5H535M530 239.5H534M529 240.5H532M527 241.5H531M526 242.5H529M524 243.5H528M523 244.5H527M522 245.5H525M520 246.5H524M519 247.5H522M517 248.5H521M516 249.5H519M514 250.5H518M513 251.5H516M511 252.5H515M510 253.5H514M509 254.5H512M507 255.5H511M506 256.5H509M504 257.5H508M503 258.5H506M501 259.5H505M500 260.5H503M498 261.5H502M497 262.5H501M496 263.5H499M494 264.5H498M493 265.5H496M491 266.5H495M490 267.5H493M488 268.5H492M487 269.5H490M485 270.5H489M484 271.5H488M483 272.5H486M481 273.5H485M480 274.5H483M478 275.5H482M477 276.5H480M475 277.5H479M474 278.5H477M472 279.5H476M471 280.5H475M470 281.5H473M468 282.5H472M467 283.5H470M465 284.5H469M464 285.5H467M462 286.5H466M461 287.5H464M460 288.5H463M458 289.5H462M457 290.5H460M455 291.5H459M454 292.5H457M452 293.5H456M451 294.5H454M449 295.5H453M448 296.5H451M447 297.5H450M445 298.5H449M444 299.5H447M442 300.5H446M441 301.5H444M439 302.5H443M438 303.5H441M436 304.5H440M435 305.5H438M434 306.5H437M432 307.5H436M431 308.5H434M429 309.5H433M428 310.5H431M426 311.5H430M425 312.5H428M423 313.5H427M422 314.5H425M421 315.5H424M419 316.5H423M418 317.5H421M416 318.5H420M415 319.5H418M413 320.5H417M412 321.5H415M410 322.5H414M409 323.5H412M408 324.5H411M406 325.5H410M405 326.5H408M403 327.5H407M402 328.5H405M400 329.5H404M399 330.5H402M397 331.5H401M396 332.5H400M395 333.5H398M393 334.5H397M392 335.5H395M390 336.5H394M389 337.5H392M387 338.5H391M386 339.5H389M384 340.5H388M383 341.5H387M382 342.5H385M380 343.5H384M379 344.5H382M377 345.5H381M376 346.5H379M374 347.5H378M373 348.5H376M371 349.5H375M370 350.5H374M369 351.5H372M367 352.5H371M366 353.5H369M364 354.5H368M363 355.5H366M361 356.5H365M360 357.5H363M358 358.5H362M357 359.5H361M356 360.5H359M354 361.5H358M353 362.5H356M351 363.5H355M350 364.5H353M348 365.5H352M347 366.5H350M345 367.5H349M344 368.5H348M343 369.5H346M341 370.5H345M340 371.5H343M338 372.5H342M337 373.5H340M335 374.5H339M334 375.5H337M332 376.5H336M331 377.5H335M330 378.5H333M328 379.5H332M327 380.5H330M325 381.5H329M324 382.5H327M322 383.5H326M321 384.5H324M319 385.5H323M318 386.5H322M317 387.5H320M315 388.5H319M314 389.5H317M312 390.5H316M311 391.5H314M309 392.5H313M308 393.5H311M306 394.5H310M305 395.5H309M304 396.5H307M302 397.5H306M301 398.5H304M299 399.5H303M298 400.5H301M296 401.5H300M295 402.5H298M293 403.5H297M292 404.5H296M291 405.5H294M289 406.5H293M288 407.5H291M286 408.5H290M285 409.5H288M283 410.5H287M282 411.5H285M280 412.5H284M279 413.5H283M278 414.5H281M276 415.5H280M275 416.5H278M273 417.5H277M272 418.5H275M270 419.5H274M269 420.5H272M267 421.5H271M266 422.5H270M265 423.5H268M263 424.5H267M262 425.5H265M260 426.5H264M259 427.5H262M257 428.5H261M256 429.5H259M254 430.5H258M253 431.5H257M252 432.5H255M250 433.5H254M249 434.5H252M247 435.5H251M246 436.5H249M244 437.5H248M243 438.5H246M241 439.5H245M240 440.5H244M239 441.5H242M237 442.5H241M236 443.5H239M234 444.5H238M233 445.5H236M231 446.5H235M230 447.5H233M229 448.5H232M227 449.5H231M226 450.5H229M224 451.5H228M223 452.5H226M221 453.5H225M220 454.5H223M218 455.5H222M217 456.5H220M216 457.5H219M214 458.5H218M213 459.5H216M211 460.5H215M210 461.5H213M208 462.5H212M207 463.5H210M205 464.5H209M204 465.5H207M203 466.5H206M201 467.5H205M200 468.5H203M198 469.5H202M197 470.5H200M195 471.5H199M194 472.5H197M192 473.5H196M191 474.5H194M190 475.5H193M188 476.5H192M187 477.5H190M185 478.5H189M184 479.5H187M182 480.5H186M181 481.5H184M179 482.5H183M178 483.5H181M177 484.5H180M175 485.5H179M174 486.5H177M172 487.5H176M171 488.5H174M169 489.5H173M168 490.5H171M166 491.5H170M165 492.5H168M164 493.5H167M162 494.5H166M161 495.5H164M159 496.5H163M158 497.5H161M156 498.5H160M155 499.5H158M153 500.5H157M152 501.5H156M151 502.5H154M149 503.5H153M148 504.5H151M146 505.5H150M145 506.5H148M143 507.5H147M142 508.5H145M140 509.5H144M139 510.5H143M138 511.5H141M136 512.5H140M135 513.5H138M133 514.5H137M132 515.5H135M130 516.5H134M129 517.5H132M127 518.5H131M126 519.5H130M125 520.5H128M123 521.5H127M122 522.5H125M120 523.5H124M119 524.5H122M117 525.5H121M116 526.5H119M114 527.5H118M113 528.5H117M112 529.5H115M110 530.5H114M109 531.5H112M107 532.5H111M106 533.5H109M104 534.5H108M103 535.5H106M101 536.5H105M100 537.5H104M99 538.5H102M97 539.5H101M96 540.5H99M94 541.5H98M93 542.5H96M91 543.5H95M90 544.5H93M88 545.5H92M87 546.5H91M86 547.5H89M84 548.5H88M83 549.5H86M81 550.5H85M80 551.5H83M78 552.5H82M77 553.5H80M75 554.5H79M74 555.5H78M73 556.5H76M71 557.5H75M70 558.5H73M68 559.5H72M67 560.5H70M65 561.5H69M64 562.5H67M62 563.5H66M61 564.5H65M60 565.5H63M58 566.5H62M57 567.5H60M55 568.5H59M54 569.5H57M52 570.5H56M51 571.5H54M49 572.5H53M48 573.5H52M47 574.5H50M45 575.5H49M44 576.5H47M42 577.5H46M41 578.5H44M39 579.5H43M38 580.5H41M36 581.5H40M35 582.5H39M34 583.5H37M32 584.5H36M31 585.5H34M29 586.5H33M28 587.5H31M26 588.5H30M25 589.5H28M23 590.5H27M22 591.5H26M21 592.5H24M19 593.5H23M18 594.5H21M16 595.5H20M15 596.5H18M13 597.5H17M12 598.5H15M10 599.5H14M9 600.5H13M8 601.5H11M6 602.5H10M5 603.5H8M3 604.5H7M2 605.5H5M2 606.5H4" stroke="#0000cd" stroke-width="1" fill="none" shape-rendering="crispEdges"/>
<path d="M1008 206H1070V207H1132V208H1194V209H1257V211H1194V210H1132V209H1070V208H1008Z" fill="#0000cd" shape-rendering="crispEdges"/>
<path d="M1008.5 259.5L1003.5 264.5H1006.5V270.5H1010.5V264.5H1013.5Z" fill="#fff" stroke="#1040ff" stroke-width="1"/>
<path d="M1092.5 311.5L1087.5 316.5H1090.5V322.5H1094.5V316.5H1097.5Z" fill="#fff" stroke="#1040ff" stroke-width="1"/>
<path d="M1172.5 257.5L1167.5 262.5H1170.5V268.5H1174.5V262.5H1177.5Z" fill="#fff" stroke="#1040ff" stroke-width="1"/>
<path d="M2.5 650V653M3.5 646V650M4.5 643V646M5.5 640V643M6.5 636V640M7.5 632V636M8.5 630V632M9.5 632V634M10.5 634V636M11.5 636V639M12.5 639V642M13.5 642V646M14.5 646V649M15.5 649V651M16.5 645V652M17.5 632V645M18.5 625V632M19.5 629V636M20.5 636V641M21.5 641V645M22.5 645V653M23.5 653V665M24.5 665V675M25.5 675V683M26.5 683V692M27.5 692V701M28.5 700V706M29.5 689V700M30.5 678V689M31.5 667V678M32.5 655V667M33.5 641V655M34.5 634V641M35.5 635V637M36.5 637V638M37.5 638V640M38.5 640V642M39.5 642V644M40.5 642V645M41.5 638V642M42.5 633V638M43.5 629V633M44.5 626V629M45.5 623V626M46.5 621V636M47.5 636V666M48.5 666V692M49.5 692V715M50.5 715V738M51.5 738V761M52.5 761V773M53.5 751V765M54.5 736V751M55.5 722V736M56.5 707V722M57.5 693V707M58.5 678V693M59.5 664V678M60.5 649V664M61.5 635V649M62.5 628V635M63.5 626V628M64.5 625V626M65.5 624V625M66.5 623V629M67.5 629V641M68.5 641V652M69.5 652V663M70.5 663V674M71.5 674V685M72.5 685V696M73.5 696V706M74.5 706V712M75.5 702V708M76.5 696V702M77.5 692V696M78.5 689V692M79.5 691V695M80.5 692V697M81.5 682V692M82.5 674V682M83.5 666V674M84.5 662V666M85.5 665V669M86.5 669V675M87.5 675V681M88.5 681V685M89.5 673V681M90.5 665V673M91.5 655V665M92.5 645V655M93.5 635V645M94.5 630V635M95.5 635V643M96.5 643V651M97.5 651V659M98.5 659V667M99.5 667V675M100.5 675V683M101.5 683V691M102.5 691V700M103.5 700V709M104.5 709V714M105.5 699V709M106.5 689V699M107.5 679V689M108.5 668V679M109.5 658V668M110.5 645V658M111.5 631V645M112.5 623V631M113.5 624V626M114.5 626V628M115.5 628V630M116.5 630V632M117.5 629V631M118.5 628V629M119.5 627V628M120.5 626V636M121.5 636V654M122.5 654V672M123.5 672V688M124.5 688V708M125.5 708V732M126.5 732V745M127.5 740V743M128.5 735V740M129.5 729V735M130.5 722V729M131.5 716V722M132.5 710V716M133.5 704V710M134.5 699V704M135.5 693V699M136.5 690V693M137.5 693V699M138.5 699V704M139.5 704V709M140.5 709V714M141.5 714V719M142.5 719V723M143.5 723V726M144.5 720V728M145.5 704V720M146.5 691V704M147.5 680V691M148.5 668V680M149.5 656V668M150.5 650V656M151.5 650V651M152.5 651V652M153.5 651V652M154.5 652V653M155.5 653V654M156.5 654V655M157.5 652V654M158.5 650V652M159.5 648V650M160.5 646V648M161.5 644V646M162.5 641V644M163.5 639V641M164.5 635V639M165.5 631V635M166.5 629V635M167.5 635V647M168.5 647V658M169.5 658V669M170.5 669V680M171.5 680V690M172.5 690V696M173.5 684V692M174.5 677V684M175.5 670V677M176.5 663V670M177.5 656V663M178.5 652V656M179.5 654V656M180.5 655V658M181.5 649V655M182.5 644V649M183.5 640V644M184.5 635V640M185.5 630V635M186.5 627V632M187.5 632V640M188.5 640V648M189.5 648V656M190.5 656V665M191.5 665V673M192.5 673V682M193.5 682V690M194.5 690V699M195.5 699V709M196.5 709V714M197.5 712V713M198.5 711V715M199.5 715V723M200.5 722V727M201.5 713V722M202.5 704V713M203.5 694V704M204.5 689V696M205.5 696V709M206.5 709V723M207.5 723V737M208.5 737V751M209.5 751V767M210.5 767V775M211.5 762V770M212.5 754V762M213.5 746V754M214.5 737V746M215.5 729V737M216.5 720V729M217.5 711V720M218.5 703V711M219.5 695V703M220.5 691V695M221.5 692V694M222.5 688V695M223.5 676V688M224.5 666V676M225.5 657V666M226.5 652V657M227.5 656V662M228.5 662V669M229.5 669V675M230.5 675V681M231.5 681V687M232.5 687V693M233.5 693V699M234.5 698V702M235.5 690V698M236.5 683V690M237.5 675V683M238.5 668V675M239.5 660V668M240.5 656V661M241.5 661V671M242.5 671V681M243.5 681V691M244.5 691V701M245.5 701V711M246.5 711V722M247.5 722V732M248.5 732V742M249.5 742V753M250.5 753V759M251.5 756V758M252.5 755V756M253.5 753V755M254.5 752V756M255.5 756V764M256.5 764V770M257.5 770V776M258.5 776V781M259.5 781V785M260.5 784V788M261.5 776V784M262.5 769V776M263.5 763V769M264.5 756V763M265.5 750V756M266.5 739V750M267.5 723V739M268.5 708V723M269.5 693V708M270.5 678V693M271.5 662V678M272.5 654V663M273.5 663V679M274.5 679V696M275.5 696V712M276.5 712V728M277.5 728V744M278.5 744V757M279.5 757V769M280.5 769V775M281.5 772V774M282.5 771V772M283.5 770V771M284.5 769V770M285.5 767V769M286.5 756V767M287.5 736V756M288.5 716V736M289.5 696V716M290.5 675V696M291.5 655V675M292.5 644V655M293.5 651V663M294.5 663V675M295.5 675V687M296.5 687V700M297.5 700V712M298.5 712V725M299.5 725V737M300.5 737V751M301.5 751V767M302.5 767V775M303.5 770V773M304.5 766V770M305.5 762V766M306.5 758V762M307.5 754V758M308.5 749V754M309.5 743V749M310.5 736V743M311.5 728V736M312.5 716V728M313.5 702V716M314.5 687V702M315.5 673V687M316.5 658V673M317.5 644V658M318.5 636V644M319.5 639V643M320.5 643V646M321.5 642V644M322.5 641V642M323.5 639V641M324.5 638V640M325.5 640V644M326.5 644V647M327.5 647V650M328.5 650V653M329.5 653V656M330.5 654V658M331.5 648V654M332.5 641V648M333.5 635V641M334.5 632V643M335.5 643V663M336.5 663V683M337.5 683V703M338.5 703V724M339.5 724V746M340.5 746V757M341.5 738V750M342.5 726V738M343.5 713V726M344.5 700V713M345.5 688V700M346.5 675V688M347.5 662V675M348.5 651V662M349.5 641V651M350.5 636V641M351.5 636V637M352.5 637V638M353.5 637V638M354.5 637V639M355.5 635V637M356.5 634V635M357.5 633V634M358.5 632V643M359.5 643V665M360.5 665V687M361.5 687V709M362.5 709V731M363.5 731V754M364.5 754V766M365.5 754V762M366.5 746V754M367.5 738V746M368.5 732V738M369.5 726V732M370.5 723V728M371.5 728V736M372.5 733V740M373.5 721V733M374.5 709V721M375.5 697V709M376.5 684V697M377.5 672V684M378.5 659V672M379.5 644V659M380.5 636V644M381.5 636V637M382.5 635V636M383.5 635V636M384.5 634V638M385.5 638V645M386.5 645V652M387.5 652V659M388.5 659V667M389.5 667V675M390.5 675V680M391.5 680V682M392.5 682V684M393.5 684V686M394.5 686V690M395.5 690V698M396.5 698V707M397.5 707V717M398.5 717V727M399.5 727V737M400.5 737V745M401.5 745V751M402.5 748V754M403.5 736V748M404.5 726V736M405.5 718V726M406.5 710V718M407.5 702V710M408.5 698V702M409.5 702V708M410.5 708V715M411.5 715V721M412.5 721V728M413.5 728V734M414.5 728V737M415.5 712V728M416.5 697V712M417.5 683V697M418.5 668V683M419.5 654V668M420.5 643V654M421.5 636V643M422.5 632V636M423.5 636V644M424.5 644V650M425.5 650V654M426.5 654V656M427.5 656V657M428.5 657V658M429.5 657V658M430.5 658V659M431.5 659V660M432.5 660V661M433.5 660V661M434.5 659V662M435.5 655V659M436.5 652V655M437.5 648V652M438.5 646V648M439.5 647V649M440.5 648V650M441.5 645V648M442.5 642V645M443.5 638V642M444.5 634V638M445.5 630V634M446.5 627V630M447.5 629V633M448.5 633V638M449.5 638V644M450.5 644V651M451.5 651V657M452.5 657V664M453.5 664V670M454.5 670V677M455.5 677V683M456.5 683V686M457.5 677V683M458.5 671V677M459.5 665V671M460.5 662V668M461.5 668V678M462.5 678V688M463.5 688V700M464.5 700V711M465.5 711V723M466.5 723V735M467.5 735V747M468.5 747V754M469.5 740V749M470.5 730V740M471.5 720V730M472.5 710V720M473.5 700V710M474.5 690V700M475.5 680V690M476.5 672V680M477.5 664V672M478.5 657V664M479.5 649V657M480.5 642V649M481.5 636V642M482.5 633V641M483.5 641V655M484.5 655V667M485.5 667V679M486.5 679V690M487.5 690V702M488.5 702V713M489.5 713V725M490.5 725V736M491.5 736V748M492.5 748V759M493.5 759V771M494.5 771V777M495.5 769V774M496.5 764V769M497.5 759V764M498.5 754V759M499.5 750V754M500.5 748V750M501.5 750V752M502.5 752V755M503.5 755V757M504.5 755V759M505.5 747V755M506.5 741V747M507.5 736V741M508.5 728V736M509.5 718V728M510.5 710V718M511.5 702V710M512.5 696V702M513.5 690V696M514.5 687V690M515.5 689V691M516.5 691V694M517.5 694V696M518.5 696V698M519.5 695V697M520.5 694V695M521.5 692V694M522.5 683V692M523.5 667V683M524.5 659V667M525.5 665V677M526.5 677V688M527.5 688V698M528.5 698V707M529.5 707V717M530.5 717V722M531.5 709V717M532.5 703V709M533.5 699V703M534.5 693V699M535.5 685V693M536.5 681V687M537.5 687V699M538.5 699V710M539.5 710V720M540.5 720V731M541.5 731V741M542.5 741V750M543.5 750V757M544.5 757V762M545.5 762V766M546.5 766V769M547.5 769V771M548.5 771V773M549.5 773V776M550.5 774V778M551.5 768V774M552.5 762V768M553.5 756V762M554.5 750V756M555.5 744V750M556.5 739V744M557.5 735V739M558.5 725V735M559.5 710V725M560.5 702V710M561.5 708V718M562.5 718V730M563.5 730V742M564.5 742V753M565.5 753V763M566.5 763V769M567.5 769V771M568.5 771V772M569.5 772V773M570.5 765V774M571.5 748V765M572.5 729V748M573.5 709V729M574.5 690V709M575.5 671V690M576.5 658V671M577.5 651V658M578.5 644V651M579.5 638V644M580.5 631V638M581.5 624V631M582.5 620V624M583.5 622V624M584.5 624V626M585.5 626V628M586.5 628V629M587.5 629V630M588.5 630V644M589.5 644V670M590.5 670V693M591.5 693V712M592.5 712V722M593.5 712V718M594.5 706V712M595.5 700V706M596.5 696V700M597.5 696V697M598.5 696V703M599.5 703V715M600.5 715V728M601.5 728V740M602.5 740V751M603.5 751V763M604.5 763V769M605.5 759V765M606.5 753V759M607.5 747V753M608.5 741V747M609.5 736V741M610.5 726V736M611.5 711V726M612.5 697V711M613.5 683V697M614.5 676V683M615.5 680V687M616.5 687V694M617.5 694V702M618.5 702V709M619.5 709V715M620.5 712V719M621.5 699V712M622.5 687V699M623.5 675V687M624.5 664V675M625.5 654V664M626.5 649V654M627.5 653V659M628.5 659V665M629.5 665V671M630.5 671V678M631.5 678V686M632.5 686V695M633.5 695V704M634.5 704V713M635.5 713V721M636.5 721V725M637.5 714V721M638.5 707V714M639.5 700V707M640.5 693V700M641.5 686V693M642.5 679V686M643.5 672V679M644.5 666V672M645.5 660V666M646.5 657V660M647.5 660V665M648.5 665V668M649.5 660V665M650.5 656V660M651.5 654V656M652.5 651V654M653.5 647V651M654.5 644V647M655.5 641V644M656.5 638V641M657.5 636V638M658.5 635V642M659.5 642V654M660.5 654V665M661.5 665V677M662.5 677V688M663.5 688V700M664.5 700V706M665.5 691V701M666.5 682V691M667.5 672V682M668.5 667V672M669.5 671V679M670.5 679V686M671.5 686V693M672.5 692V697M673.5 684V692M674.5 675V684M675.5 667V675M676.5 659V667M677.5 651V659M678.5 646V651M679.5 650V657M680.5 657V661M681.5 658V660M682.5 657V658M683.5 655V657M684.5 653V655M685.5 651V653M686.5 650V651M687.5 649V650M688.5 645V649M689.5 637V645M690.5 633V642M691.5 642V658M692.5 658V678M693.5 678V703M694.5 703V719M695.5 719V725M696.5 725V733M697.5 733V745M698.5 745V756M699.5 756V768M700.5 768V774M701.5 763V770M702.5 756V763M703.5 750V756M704.5 744V750M705.5 738V744M706.5 735V738M707.5 735V736M708.5 736V737M709.5 736V737M710.5 730V738M711.5 715V730M712.5 701V715M713.5 689V701M714.5 675V689M715.5 660V675M716.5 652V660M717.5 658V670M718.5 670V683M719.5 683V697M720.5 697V711M721.5 711V725M722.5 725V735M723.5 735V743M724.5 743V747M725.5 740V744M726.5 737V740M727.5 735V737M728.5 734V738M729.5 738V745M730.5 745V752M731.5 752V758M732.5 757V762M733.5 749V757M734.5 740V749M735.5 730V740M736.5 721V730M737.5 712V721M738.5 703V712M739.5 694V703M740.5 686V694M741.5 678V686M742.5 674V679M743.5 679V687M744.5 687V696M745.5 696V704M746.5 704V709M747.5 697V705M748.5 693V697M749.5 694V695M750.5 695V697M751.5 697V699M752.5 689V700M753.5 669V689M754.5 658V669M755.5 663V671M756.5 671V679M757.5 679V687M758.5 687V696M759.5 696V704M760.5 704V713M761.5 713V721M762.5 721V730M763.5 730V738M764.5 738V747M765.5 747V755M766.5 752V759M767.5 740V752M768.5 728V740M769.5 716V728M770.5 705V716M771.5 693V705M772.5 682V693M773.5 671V682M774.5 660V671M775.5 649V660M776.5 643V649M777.5 649V661M778.5 661V672M779.5 672V684M780.5 684V695M781.5 695V706M782.5 706V717M783.5 717V728M784.5 728V738M785.5 738V747M786.5 746V752M787.5 734V746M788.5 728V734M789.5 730V732M790.5 732V734M791.5 734V736M792.5 736V742M793.5 742V753M794.5 750V759M795.5 734V750M796.5 718V734M797.5 701V718M798.5 686V701M799.5 674V686M800.5 667V674M801.5 667V668M802.5 666V679M803.5 679V705M804.5 705V718M805.5 718V719M806.5 712V720M807.5 698V712M808.5 684V698M809.5 672V684M810.5 659V672M811.5 647V659M812.5 638V647M813.5 632V638M814.5 629V635M815.5 635V646M816.5 646V655M817.5 655V663M818.5 663V670M819.5 670V676M820.5 676V679M821.5 672V676M822.5 669V672M823.5 665V669M824.5 663V668M825.5 668V676M826.5 676V681M827.5 681V683M828.5 683V686M829.5 686V690M830.5 690V695M831.5 695V703M832.5 703V713M833.5 713V725M834.5 725V738M835.5 738V750M836.5 750V757M837.5 750V754M838.5 748V753M839.5 753V761M840.5 761V766M841.5 766V767M842.5 767V768M843.5 768V769M844.5 767V770M845.5 763V767M846.5 760V763M847.5 758V760M848.5 756V758M849.5 758V762M850.5 762V765M851.5 765V767M852.5 767V770M853.5 770V772M854.5 769V773M855.5 762V769M856.5 756V762M857.5 750V756M858.5 739V750M859.5 723V739M860.5 707V723M861.5 692V707M862.5 679V692M863.5 669V679M864.5 658V669M865.5 644V658M866.5 633V644M867.5 623V633M868.5 618V623M869.5 619V621M870.5 621V623M871.5 623V625M872.5 625V631M873.5 631V640M874.5 640V653M875.5 653V669M876.5 669V680M877.5 680V686M878.5 686V694M879.5 694V704M880.5 704V714M881.5 714V724M882.5 724V734M883.5 734V746M884.5 746V752M885.5 751V752M886.5 746V752M887.5 734V746M888.5 728V734M889.5 726V728M890.5 725V726M891.5 723V725M892.5 710V723M893.5 686V710M894.5 673V686M895.5 679V690M896.5 690V701M897.5 701V713M898.5 713V724M899.5 724V734M900.5 734V739M901.5 735V737M902.5 732V735M903.5 730V732M904.5 729V730M905.5 728V729M906.5 722V728M907.5 710V722M908.5 704V710M909.5 704V705M910.5 704V712M911.5 712V728M912.5 728V744M913.5 744V761M914.5 761V770M915.5 765V768M916.5 762V765M917.5 758V762M918.5 750V758M919.5 737V750M920.5 722V737M921.5 706V722M922.5 694V706M923.5 687V694M924.5 681V687M925.5 677V681M926.5 675V677M927.5 677V681M928.5 677V683M929.5 666V677M930.5 656V666M931.5 648V656M932.5 643V651M933.5 651V667M934.5 667V682M935.5 682V698M936.5 698V714M937.5 714V730M938.5 730V738M939.5 715V730M940.5 700V715M941.5 686V700M942.5 671V686M943.5 657V671M944.5 650V657M945.5 657V670M946.5 670V684M947.5 684V698M948.5 698V706M949.5 702V704M950.5 700V702M951.5 696V700M952.5 685V696M953.5 666V685M954.5 655V666M955.5 651V655M956.5 648V651M957.5 644V648M958.5 642V651M959.5 651V668M960.5 668V685M961.5 685V701M962.5 701V717M963.5 717V733M964.5 733V742M965.5 738V740M966.5 733V738M967.5 725V733M968.5 715V725M969.5 703V715M970.5 690V703M971.5 678V690M972.5 671V678M973.5 675V681M974.5 681V687M975.5 687V693M976.5 693V698M977.5 698V704M978.5 704V710M979.5 710V717M980.5 716V721M981.5 706V716M982.5 696V706M983.5 685V696M984.5 674V685M985.5 664V674M986.5 658V664M987.5 660V662M988.5 662V663M989.5 663V665M990.5 665V666M991.5 666V668M992.5 668V675M993.5 675V687M994.5 687V699M995.5 699V709M996.5 709V719M997.5 719V731M998.5 731V738M999.5 738V741M1000.5 741V745M1001.5 745V749M1002.5 749V753M1003.5 753V757M1004.5 757V759M1005.5 759V761M1006.5 754V762M1007.5 739V754M1008.5 726V739M1009.5 716V726M1010.5 706V716M1011.5 696V706M1012.5 686V696M1013.5 676V686M1014.5 669V676M1015.5 667V669M1016.5 665V667M1017.5 663V665M1018.5 662V663M1019.5 660V662M1020.5 655V660M1021.5 647V655M1022.5 642V647M1023.5 645V651M1024.5 651V656M1025.5 656V661M1026.5 661V667M1027.5 667V673M1028.5 673V677M1029.5 672V675M1030.5 670V673M1031.5 673V679M1032.5 679V686M1033.5 686V695M1034.5 695V704M1035.5 704V713M1036.5 713V722M1037.5 722V731M1038.5 731V736M1039.5 726V732M1040.5 719V726M1041.5 712V719M1042.5 705V712M1043.5 697V705M1044.5 690V697M1045.5 682V690M1046.5 674V682M1047.5 666V674M1048.5 657V666M1049.5 649V657M1050.5 645V649M1051.5 646V648M1052.5 648V657M1053.5 657V673M1054.5 673V691M1055.5 691V709M1056.5 709V727M1057.5 727V743M1058.5 743V752M1059.5 752V753M1060.5 753V754M1061.5 754V755M1062.5 755V756M1063.5 756V757M1064.5 757V758M1065.5 758V759M1066.5 754V760M1067.5 742V754M1068.5 732V742M1069.5 722V732M1070.5 713V722M1071.5 703V713M1072.5 693V703M1073.5 683V693M1074.5 674V683M1075.5 666V674M1076.5 661V671M1077.5 671V690M1078.5 690V708M1079.5 708V725M1080.5 725V744M1081.5 744V766M1082.5 766V777M1083.5 776V777M1084.5 776V777M1085.5 776V777M1086.5 774V777M1087.5 769V774M1088.5 765V769M1089.5 762V765M1090.5 745V762M1091.5 713V745M1092.5 695V713M1093.5 691V695M1094.5 685V691M1095.5 679V685M1096.5 673V679M1097.5 667V673M1098.5 659V667M1099.5 651V659M1100.5 647V651M1101.5 647V648M1102.5 646V647M1103.5 646V647M1104.5 647V648M1105.5 648V650M1106.5 650V651M1107.5 651V652M1108.5 652V653M1109.5 653V654M1110.5 654V655M1111.5 655V656M1112.5 656V665M1113.5 665V682M1114.5 682V691M1115.5 674V685M1116.5 664V674M1117.5 656V664M1118.5 644V656M1119.5 627V644M1120.5 618V627M1121.5 618V619M1122.5 619V620M1123.5 619V620M1124.5 619V627M1125.5 627V641M1126.5 641V655M1127.5 655V669M1128.5 669V679M1129.5 679V685M1130.5 685V691M1131.5 691V699M1132.5 696V703M1133.5 684V696M1134.5 673V684M1135.5 663V673M1136.5 652V663M1137.5 641V652M1138.5 635V641M1139.5 638V643M1140.5 643V648M1141.5 648V654M1142.5 654V659M1143.5 659V663M1144.5 663V666M1145.5 666V668M1146.5 665V670M1147.5 656V665M1148.5 651V659M1149.5 659V673M1150.5 673V686M1151.5 686V698M1152.5 698V711M1153.5 711V723M1154.5 723V729M1155.5 711V723M1156.5 700V711M1157.5 689V700M1158.5 679V689M1159.5 671V679M1160.5 667V675M1161.5 675V689M1162.5 689V701M1163.5 701V713M1164.5 713V724M1165.5 724V734M1166.5 734V739M1167.5 739V740M1168.5 738V741M1169.5 734V738M1170.5 731V734M1171.5 729V731M1172.5 716V729M1173.5 694V716M1174.5 675V694M1175.5 658V675M1176.5 645V658M1177.5 637V645M1178.5 632V637M1179.5 636V642M1180.5 642V651M1181.5 651V665M1182.5 665V677M1183.5 677V687M1184.5 687V698M1185.5 698V708M1186.5 708V720M1187.5 720V732M1188.5 732V738M1189.5 725V733M1190.5 717V725M1191.5 707V717M1192.5 698V707M1193.5 688V698M1194.5 679V688M1195.5 669V679M1196.5 660V669M1197.5 652V660M1198.5 648V657M1199.5 657V673M1200.5 673V689M1201.5 689V703M1202.5 703V717M1203.5 717V731M1204.5 731V745M1205.5 745V758M1206.5 758V765M1207.5 755V761M1208.5 749V755M1209.5 745V749M1210.5 735V745M1211.5 721V735M1212.5 707V721M1213.5 695V707M1214.5 682V695M1215.5 670V682M1216.5 658V670M1217.5 646V658M1218.5 640V647M1219.5 647V660M1220.5 660V667M1221.5 660V664M1222.5 657V660M1223.5 654V657M1224.5 651V654M1225.5 649V651M1226.5 647V649M1227.5 649V653M1228.5 652V655M1229.5 648V652M1230.5 645V648M1231.5 642V645M1232.5 640V642M1233.5 642V644M1234.5 644V646M1235.5 640V644M1236.5 637V640M1237.5 634V637M1238.5 631V634M1239.5 629V631M1240.5 627V629M1241.5 628V629M1242.5 629V630M1243.5 629V630M1244.5 629V631M1245.5 627V629M1246.5 626V627M1247.5 627V628M1248.5 628V629M1249.5 629V631M1250.5 631V633M1251.5 633V635M1252.5 635V637M1253.5 634V636M1254.5 633V634M1255.5 632V633M1256.5 631V634M1257.5 634V638M1258.5 638V640M1259.5 640V642M1260.5 642V650M1261.5 650V664M1262.5 664V677M1263.5 677V687M1264.5 687V696M1265.5 696V706M1266.5 706V716M1267.5 716V726M1268.5 726V731" stroke="#0000ff" stroke-width="1" fill="none" shape-rendering="crispEdges"/><path d="M2.5 660V663M3.5 656V660M4.5 651V656M5.5 647V651M6.5 643V647M7.5 640V643M8.5 637V640M9.5 634V637M10.5 632V634M11.5 633V634M12.5 634V636M13.5 636V639M14.5 639V642M15.5 642V645M16.5 645V647M17.5 645V646M18.5 642V645M19.5 637V642M20.5 634V637M21.5 635V637M22.5 637V641M23.5 641V647M24.5 647V655M25.5 655V665M26.5 665V674M27.5 674V683M28.5 683V690M29.5 690V694M30.5 693V697M31.5 687V693M32.5 678V687M33.5 666V678M34.5 655V666M35.5 645V655M36.5 640V645M37.5 638V640M38.5 637V638M39.5 638V640M40.5 640V641M41.5 640V641M42.5 640V642M43.5 637V640M44.5 633V637M45.5 629V633M46.5 627V630M47.5 630V634M48.5 634V646M49.5 646V667M50.5 667V690M51.5 690V714M52.5 714V734M53.5 734V748M54.5 748V756M55.5 746V752M56.5 736V746M57.5 722V736M58.5 707V722M59.5 693V707M60.5 678V693M61.5 664V678M62.5 651V664M63.5 639V651M64.5 631V639M65.5 627V631M66.5 625V627M67.5 626V628M68.5 628V633M69.5 633V642M70.5 642V652M71.5 652V663M72.5 663V674M73.5 674V685M74.5 685V694M75.5 694V701M76.5 701V705M77.5 701V703M78.5 698V701M79.5 694V698M80.5 692V694M81.5 691V692M82.5 687V691M83.5 681V687M84.5 675V681M85.5 670V675M86.5 667V670M87.5 669V671M88.5 671V674M89.5 674V677M90.5 676V679M91.5 671V676M92.5 664V671M93.5 655V664M94.5 647V655M95.5 641V647M96.5 638V641M97.5 641V645M98.5 645V651M99.5 651V659M100.5 659V667M101.5 667V675M102.5 675V683M103.5 683V691M104.5 691V698M105.5 698V703M106.5 702V706M107.5 696V702M108.5 688V696M109.5 678V688M110.5 668V678M111.5 657V668M112.5 646V657M113.5 636V646M114.5 629V636M115.5 627V629M116.5 626V627M117.5 627V629M118.5 629V630M119.5 629V630M120.5 628V630M121.5 630V633M122.5 633V642M123.5 642V656M124.5 656V672M125.5 672V690M126.5 690V708M127.5 708V724M128.5 724V734M129.5 734V736M130.5 734V737M131.5 728V734M132.5 722V728M133.5 716V722M134.5 710V716M135.5 704V710M136.5 700V704M137.5 696V700M138.5 694V696M139.5 696V699M140.5 699V703M141.5 703V709M142.5 709V714M143.5 714V718M144.5 718V721M145.5 720V721M146.5 714V720M147.5 704V714M148.5 692V704M149.5 680V692M150.5 669V680M151.5 660V669M152.5 654V660M153.5 652V654M154.5 651V652M155.5 651V652M156.5 652V653M157.5 652V653M158.5 653V654M159.5 652V653M160.5 650V652M161.5 648V650M162.5 646V648M163.5 644V646M164.5 641V644M165.5 639V641M166.5 637V639M167.5 637V638M168.5 636V641M169.5 641V649M170.5 649V658M171.5 658V669M172.5 669V678M173.5 678V684M174.5 684V688M175.5 682V686M176.5 677V682M177.5 670V677M178.5 664V670M179.5 659V664M180.5 656V659M181.5 655V656M182.5 653V655M183.5 649V653M184.5 645V649M185.5 640V645M186.5 636V640M187.5 634V636M188.5 633V636M189.5 636V641M190.5 641V648M191.5 648V656M192.5 656V665M193.5 665V673M194.5 673V682M195.5 682V691M196.5 691V699M197.5 699V705M198.5 705V710M199.5 710V714M200.5 714V716M201.5 716V718M202.5 716V719M203.5 711V716M204.5 706V711M205.5 702V706M206.5 699V704M207.5 704V712M208.5 712V724M209.5 724V738M210.5 738V750M211.5 750V760M212.5 760V765M213.5 760V763M214.5 754V760M215.5 746V754M216.5 737V746M217.5 729V737M218.5 720V729M219.5 712V720M220.5 704V712M221.5 698V704M222.5 694V698M223.5 690V694M224.5 684V690M225.5 676V684M226.5 668V676M227.5 662V668M228.5 659V662M229.5 661V664M230.5 664V669M231.5 669V675M232.5 675V681M233.5 681V687M234.5 687V691M235.5 691V694M236.5 693V696M237.5 689V693M238.5 683V689M239.5 675V683M240.5 669V675M241.5 665V669M242.5 663V667M243.5 667V673M244.5 673V681M245.5 681V691M246.5 691V701M247.5 701V711M248.5 711V722M249.5 722V732M250.5 732V741M251.5 741V749M252.5 749V753M253.5 753V755M254.5 755V756M255.5 755V756M256.5 756V759M257.5 759V764M258.5 764V769M259.5 769V775M260.5 775V779M261.5 779V781M262.5 780V783M263.5 776V780M264.5 770V776M265.5 763V770M266.5 755V763M267.5 747V755M268.5 736V747M269.5 722V736M270.5 708V722M271.5 693V708M272.5 681V693M273.5 673V681M274.5 668V673M275.5 673V683M276.5 683V696M277.5 696V712M278.5 712V727M279.5 727V742M280.5 742V754M281.5 754V764M282.5 764V769M283.5 769V771M284.5 771V772M285.5 769V771M286.5 766V769M287.5 761V766M288.5 750V761M289.5 734V750M290.5 716V734M291.5 696V716M292.5 679V696M293.5 665V679M294.5 658V665M295.5 661V666M296.5 666V675M297.5 675V687M298.5 687V700M299.5 700V712M300.5 712V725M301.5 725V738M302.5 738V750M303.5 750V761M304.5 761V767M305.5 766V767M306.5 766V768M307.5 762V766M308.5 758V762M309.5 754V758M310.5 748V754M311.5 742V748M312.5 735V742M313.5 725V735M314.5 714V725M315.5 701V714M316.5 687V701M317.5 673V687M318.5 660V673M319.5 650V660M320.5 644V650M321.5 643V644M322.5 642V643M323.5 642V643M324.5 641V642M325.5 641V642M326.5 640V642M327.5 642V644M328.5 644V647M329.5 647V650M330.5 650V652M331.5 652V653M332.5 651V654M333.5 647V651M334.5 644V647M335.5 644V645M336.5 643V651M337.5 651V665M338.5 665V683M339.5 683V704M340.5 704V721M341.5 721V735M342.5 735V742M343.5 734V739M344.5 725V734M345.5 713V725M346.5 700V713M347.5 688V700M348.5 675V688M349.5 663V675M350.5 653V663M351.5 645V653M352.5 640V645M353.5 638V640M354.5 637V638M355.5 637V638M356.5 637V638M357.5 636V637M358.5 635V637M359.5 637V641M360.5 641V651M361.5 651V667M362.5 667V687M363.5 687V709M364.5 709V728M365.5 728V744M366.5 744V752M367.5 750V751M368.5 746V750M369.5 739V746M370.5 734V739M371.5 731V734M372.5 729V731M373.5 729V730M374.5 727V731M375.5 719V727M376.5 709V719M377.5 697V709M378.5 684V697M379.5 672V684M380.5 660V672M381.5 648V660M382.5 641V648M383.5 637V641M384.5 635V637M385.5 636V637M386.5 637V640M387.5 640V646M388.5 646V652M389.5 652V660M390.5 660V667M391.5 667V673M392.5 673V678M393.5 678V681M394.5 681V684M395.5 684V688M396.5 688V693M397.5 693V699M398.5 699V707M399.5 707V717M400.5 717V726M401.5 726V735M402.5 735V741M403.5 741V744M404.5 742V746M405.5 735V742M406.5 727V735M407.5 719V727M408.5 712V719M409.5 707V712M410.5 704V707M411.5 706V710M412.5 710V715M413.5 715V721M414.5 721V725M415.5 725V726M416.5 721V727M417.5 711V721M418.5 698V711M419.5 683V698M420.5 669V683M421.5 656V669M422.5 647V656M423.5 641V647M424.5 638V641M425.5 640V644M426.5 644V648M427.5 648V652M428.5 652V655M429.5 655V657M430.5 657V658M431.5 657V658M432.5 658V659M433.5 659V660M434.5 660V661M435.5 660V661M436.5 658V660M437.5 655V658M438.5 652V655M439.5 650V652M440.5 648V650M441.5 648V649M442.5 646V648M443.5 644V646M444.5 641V644M445.5 637V641M446.5 634V637M447.5 632V634M448.5 630V632M449.5 632V635M450.5 635V639M451.5 639V645M452.5 645V651M453.5 651V657M454.5 657V664M455.5 664V670M456.5 670V675M457.5 675V679M458.5 679V681M459.5 676V679M460.5 673V676M461.5 671V673M462.5 669V673M463.5 673V679M464.5 679V688M465.5 688V700M466.5 700V711M467.5 711V723M468.5 723V733M469.5 733V741M470.5 741V745M471.5 738V742M472.5 730V738M473.5 720V730M474.5 710V720M475.5 700V710M476.5 691V700M477.5 681V691M478.5 672V681M479.5 664V672M480.5 657V664M481.5 650V657M482.5 645V650M483.5 643V645M484.5 642V647M485.5 647V656M486.5 656V667M487.5 667V679M488.5 679V690M489.5 690V702M490.5 702V713M491.5 713V725M492.5 725V736M493.5 736V748M494.5 748V757M495.5 757V765M496.5 765V769M497.5 767V768M498.5 764V767M499.5 759V764M500.5 755V759M501.5 753V755M502.5 751V753M503.5 752V753M504.5 753V754M505.5 753V754M506.5 751V754M507.5 747V751M508.5 741V747M509.5 735V741M510.5 727V735M511.5 719V727M512.5 711V719M513.5 703V711M514.5 697V703M515.5 693V697M516.5 691V693M517.5 691V692M518.5 692V694M519.5 694V696M520.5 696V697M521.5 695V696M522.5 692V695M523.5 687V692M524.5 681V687M525.5 675V681M526.5 671V675M527.5 674V679M528.5 679V687M529.5 687V697M530.5 697V705M531.5 705V711M532.5 711V714M533.5 709V712M534.5 704V709M535.5 698V704M536.5 694V698M537.5 691V694M538.5 689V693M539.5 693V700M540.5 700V709M541.5 709V720M542.5 720V731M543.5 731V741M544.5 741V749M545.5 749V756M546.5 756V761M547.5 761V765M548.5 765V768M549.5 768V771M550.5 771V773M551.5 772V773M552.5 771V774M553.5 767V771M554.5 762V767M555.5 756V762M556.5 751V756M557.5 745V751M558.5 739V745M559.5 732V739M560.5 725V732M561.5 717V725M562.5 713V717M563.5 716V722M564.5 722V730M565.5 730V741M566.5 741V751M567.5 751V760M568.5 760V766M569.5 766V770M570.5 770V772M571.5 767V770M572.5 759V767M573.5 745V759M574.5 729V745M575.5 710V729M576.5 692V710M577.5 676V692M578.5 662V676M579.5 652V662M580.5 644V652M581.5 638V644M582.5 632V638M583.5 627V632M584.5 624V627M585.5 624V625M586.5 624V625M587.5 625V627M588.5 627V631M589.5 631V638M590.5 638V651M591.5 651V671M592.5 671V688M593.5 688V703M594.5 703V711M595.5 710V711M596.5 707V710M597.5 702V707M598.5 699V702M599.5 700V702M600.5 702V707M601.5 707V717M602.5 717V728M603.5 728V740M604.5 740V749M605.5 749V757M606.5 757V761M607.5 757V759M608.5 753V757M609.5 747V753M610.5 741V747M611.5 733V741M612.5 723V733M613.5 711V723M614.5 700V711M615.5 690V700M616.5 685V690M617.5 687V689M618.5 689V694M619.5 694V701M620.5 701V706M621.5 706V708M622.5 705V710M623.5 697V705M624.5 688V697M625.5 676V688M626.5 667V676M627.5 660V667M628.5 656V660M629.5 658V660M630.5 660V665M631.5 665V671M632.5 671V679M633.5 679V687M634.5 687V695M635.5 695V704M636.5 704V711M637.5 711V716M638.5 716V719M639.5 712V716M640.5 707V712M641.5 700V707M642.5 693V700M643.5 686V693M644.5 679V686M645.5 673V679M646.5 668V673M647.5 664V668M648.5 662V664M649.5 662V663M650.5 662V664M651.5 660V662M652.5 657V660M653.5 654V657M654.5 651V654M655.5 647V651M656.5 644V647M657.5 642V644M658.5 640V642M659.5 640V641M660.5 641V646M661.5 646V654M662.5 654V665M663.5 665V677M664.5 677V686M665.5 686V692M666.5 692V696M667.5 689V693M668.5 684V689M669.5 678V684M670.5 675V678M671.5 677V681M672.5 681V684M673.5 684V688M674.5 687V690M675.5 683V687M676.5 676V683M677.5 668V676M678.5 661V668M679.5 656V661M680.5 653V656M681.5 654V656M682.5 656V657M683.5 656V657M684.5 657V658M685.5 655V657M686.5 653V655M687.5 651V653M688.5 649V651M689.5 647V649M690.5 645V647M691.5 644V645M692.5 643V650M693.5 650V663M694.5 663V679M695.5 679V698M696.5 698V713M697.5 713V725M698.5 725V736M699.5 736V746M700.5 746V754M701.5 754V762M702.5 762V766M703.5 761V764M704.5 756V761M705.5 750V756M706.5 744V750M707.5 740V744M708.5 737V740M709.5 737V738M710.5 735V737M711.5 732V735M712.5 725V732M713.5 714V725M714.5 702V714M715.5 688V702M716.5 677V688M717.5 669V677M718.5 664V669M719.5 668V674M720.5 674V683M721.5 683V697M722.5 697V710M723.5 710V722M724.5 722V732M725.5 732V738M726.5 738V742M727.5 740V741M728.5 739V740M729.5 739V740M730.5 738V741M731.5 741V746M732.5 746V750M733.5 750V753M734.5 752V755M735.5 746V752M736.5 739V746M737.5 730V739M738.5 721V730M739.5 712V721M740.5 703V712M741.5 695V703M742.5 688V695M743.5 684V688M744.5 681V684M745.5 684V689M746.5 689V694M747.5 694V699M748.5 699V702M749.5 698V700M750.5 697V698M751.5 696V697M752.5 694V696M753.5 691V694M754.5 685V691M755.5 676V685M756.5 671V676M757.5 672V674M758.5 674V679M759.5 679V687M760.5 687V696M761.5 696V704M762.5 704V713M763.5 713V721M764.5 721V730M765.5 730V738M766.5 738V744M767.5 744V748M768.5 745V750M769.5 737V745M770.5 728V737M771.5 716V728M772.5 705V716M773.5 693V705M774.5 682V693M775.5 671V682M776.5 662V671M777.5 656V662M778.5 653V657M779.5 657V663M780.5 663V672M781.5 672V684M782.5 684V695M783.5 695V706M784.5 706V717M785.5 717V727M786.5 727V735M787.5 735V740M788.5 740V743M789.5 736V740M790.5 734V736M791.5 733V734M792.5 732V735M793.5 735V739M794.5 739V742M795.5 742V745M796.5 741V747M797.5 731V741M798.5 718V731M799.5 702V718M800.5 689V702M801.5 678V689M802.5 672V678M803.5 674V676M804.5 676V685M805.5 685V699M806.5 699V708M807.5 708V711M808.5 707V713M809.5 697V707M810.5 685V697M811.5 672V685M812.5 660V672M813.5 650V660M814.5 642V650M815.5 638V642M816.5 636V640M817.5 640V646M818.5 646V654M819.5 654V662M820.5 662V668M821.5 668V672M822.5 672V674M823.5 671V673M824.5 670V671M825.5 669V670M826.5 668V671M827.5 671V675M828.5 675V679M829.5 679V683M830.5 683V687M831.5 687V691M832.5 691V697M833.5 697V705M834.5 705V714M835.5 714V726M836.5 726V736M837.5 736V745M838.5 745V751M839.5 751V753M840.5 753V756M841.5 756V760M842.5 760V764M843.5 764V766M844.5 766V768M845.5 767V768M846.5 766V768M847.5 764V766M848.5 762V764M849.5 760V762M850.5 759V760M851.5 760V762M852.5 762V764M853.5 764V767M854.5 767V769M855.5 768V769M856.5 766V769M857.5 762V766M858.5 755V762M859.5 747V755M860.5 736V747M861.5 722V736M862.5 708V722M863.5 694V708M864.5 680V694M865.5 668V680M866.5 657V668M867.5 645V657M868.5 635V645M869.5 627V635M870.5 623V627M871.5 622V623M872.5 621V624M873.5 624V628M874.5 628V634M875.5 634V643M876.5 643V654M877.5 654V666M878.5 666V677M879.5 677V686M880.5 686V695M881.5 695V704M882.5 704V714M883.5 714V724M884.5 724V734M885.5 734V742M886.5 742V747M887.5 746V747M888.5 743V747M889.5 736V743M890.5 731V736M891.5 727V731M892.5 722V727M893.5 716V722M894.5 707V716M895.5 695V707M896.5 689V695M897.5 691V694M898.5 694V701M899.5 701V712M900.5 712V721M901.5 721V729M902.5 729V733M903.5 732V733M904.5 732V734M905.5 730V732M906.5 728V730M907.5 724V728M908.5 719V724M909.5 713V719M910.5 709V713M911.5 710V711M912.5 711V718M913.5 718V730M914.5 730V742M915.5 742V754M916.5 754V761M917.5 761V763M918.5 761V764M919.5 755V761M920.5 747V755M921.5 735V747M922.5 722V735M923.5 708V722M924.5 697V708M925.5 689V697M926.5 683V689M927.5 680V683M928.5 678V680M929.5 676V678M930.5 672V676M931.5 665V672M932.5 660V665M933.5 656V660M934.5 654V660M935.5 660V670M936.5 670V682M937.5 682V698M938.5 698V710M939.5 710V719M940.5 719V724M941.5 711V719M942.5 700V711M943.5 686V700M944.5 674V686M945.5 666V674M946.5 662V666M947.5 666V673M948.5 673V682M949.5 682V693M950.5 693V699M951.5 699V700M952.5 697V701M953.5 691V697M954.5 681V691M955.5 669V681M956.5 660V669M957.5 653V660M958.5 649V653M959.5 650V651M960.5 651V658M961.5 658V670M962.5 670V685M963.5 685V701M964.5 701V715M965.5 715V727M966.5 727V733M967.5 732V733M968.5 730V734M969.5 722V730M970.5 713V722M971.5 702V713M972.5 692V702M973.5 684V692M974.5 679V684M975.5 681V683M976.5 683V687M977.5 687V693M978.5 693V699M979.5 699V705M980.5 705V709M981.5 709V712M982.5 710V714M983.5 704V710M984.5 695V704M985.5 685V695M986.5 676V685M987.5 668V676M988.5 664V668M989.5 663V664M990.5 662V663M991.5 663V665M992.5 665V668M993.5 668V672M994.5 672V678M995.5 678V688M996.5 688V698M997.5 698V708M998.5 708V718M999.5 718V728M1000.5 728V735M1001.5 735V740M1002.5 740V745M1003.5 745V749M1004.5 749V752M1005.5 752V756M1006.5 756V758M1007.5 755V757M1008.5 749V755M1009.5 739V749M1010.5 728V739M1011.5 717V728M1012.5 706V717M1013.5 696V706M1014.5 687V696M1015.5 679V687M1016.5 672V679M1017.5 668V672M1018.5 666V668M1019.5 664V666M1020.5 662V664M1021.5 658V662M1022.5 654V658M1023.5 650V654M1024.5 648V650M1025.5 650V652M1026.5 652V656M1027.5 656V662M1028.5 662V667M1029.5 667V671M1030.5 671V673M1031.5 673V674M1032.5 674V677M1033.5 677V681M1034.5 681V688M1035.5 688V696M1036.5 696V704M1037.5 704V713M1038.5 713V720M1039.5 720V726M1040.5 726V729M1041.5 724V727M1042.5 719V724M1043.5 712V719M1044.5 705V712M1045.5 697V705M1046.5 690V697M1047.5 682V690M1048.5 674V682M1049.5 666V674M1050.5 659V666M1051.5 653V659M1052.5 649V653M1053.5 651V654M1054.5 654V662M1055.5 662V676M1056.5 676V691M1057.5 691V709M1058.5 709V724M1059.5 724V738M1060.5 738V747M1061.5 747V751M1062.5 751V754M1063.5 754V755M1064.5 755V756M1065.5 756V757M1066.5 756V758M1067.5 754V756M1068.5 749V754M1069.5 741V749M1070.5 732V741M1071.5 722V732M1072.5 713V722M1073.5 703V713M1074.5 694V703M1075.5 684V694M1076.5 678V684M1077.5 675V678M1078.5 673V680M1079.5 680V692M1080.5 692V708M1081.5 708V726M1082.5 726V743M1083.5 743V759M1084.5 759V769M1085.5 769V774M1086.5 774V777M1087.5 775V776M1088.5 773V775M1089.5 769V773M1090.5 763V769M1091.5 753V763M1092.5 739V753M1093.5 719V739M1094.5 704V719M1095.5 694V704M1096.5 685V694M1097.5 679V685M1098.5 673V679M1099.5 666V673M1100.5 659V666M1101.5 653V659M1102.5 650V653M1103.5 648V650M1104.5 647V648M1105.5 647V648M1106.5 648V649M1107.5 649V650M1108.5 650V651M1109.5 651V652M1110.5 652V653M1111.5 653V654M1112.5 654V657M1113.5 657V661M1114.5 661V667M1115.5 667V675M1116.5 675V679M1117.5 672V676M1118.5 665V672M1119.5 654V665M1120.5 643V654M1121.5 632V643M1122.5 625V632M1123.5 621V625M1124.5 619V621M1125.5 621V624M1126.5 624V631M1127.5 631V643M1128.5 643V655M1129.5 655V667M1130.5 667V677M1131.5 677V685M1132.5 685V690M1133.5 690V692M1134.5 690V694M1135.5 682V690M1136.5 673V682M1137.5 663V673M1138.5 654V663M1139.5 646V654M1140.5 642V646M1141.5 643V645M1142.5 645V648M1143.5 648V653M1144.5 653V658M1145.5 658V662M1146.5 662V664M1147.5 663V664M1148.5 664V665M1149.5 662V664M1150.5 661V666M1151.5 666V674M1152.5 674V685M1153.5 685V698M1154.5 698V708M1155.5 708V714M1156.5 714V718M1157.5 708V714M1158.5 700V708M1159.5 690V700M1160.5 683V690M1161.5 679V683M1162.5 677V682M1163.5 682V690M1164.5 690V700M1165.5 700V712M1166.5 712V722M1167.5 722V730M1168.5 730V736M1169.5 736V738M1170.5 737V739M1171.5 734V737M1172.5 729V734M1173.5 722V729M1174.5 710V722M1175.5 694V710M1176.5 677V694M1177.5 661V677M1178.5 650V661M1179.5 642V650M1180.5 638V642M1181.5 641V645M1182.5 645V653M1183.5 653V665M1184.5 665V676M1185.5 676V687M1186.5 687V698M1187.5 698V709M1188.5 709V718M1189.5 718V725M1190.5 725V729M1191.5 722V726M1192.5 716V722M1193.5 707V716M1194.5 698V707M1195.5 688V698M1196.5 679V688M1197.5 670V679M1198.5 664V670M1199.5 661V664M1200.5 659V665M1201.5 665V675M1202.5 675V688M1203.5 688V702M1204.5 702V717M1205.5 717V731M1206.5 731V742M1207.5 742V751M1208.5 751V756M1209.5 753V755M1210.5 749V753M1211.5 742V749M1212.5 732V742M1213.5 720V732M1214.5 708V720M1215.5 695V708M1216.5 682V695M1217.5 670V682M1218.5 660V670M1219.5 654V660M1220.5 650V654M1221.5 653V657M1222.5 657V659M1223.5 658V659M1224.5 658V660M1225.5 654V658M1226.5 652V654M1227.5 651V652M1228.5 650V651M1229.5 650V651M1230.5 650V652M1231.5 648V650M1232.5 646V648M1233.5 644V646M1234.5 642V644M1235.5 642V643M1236.5 641V643M1237.5 639V641M1238.5 637V639M1239.5 634V637M1240.5 631V634M1241.5 629V631M1242.5 628V629M1243.5 628V629M1244.5 629V630M1245.5 629V630M1246.5 629V630M1247.5 628V629M1248.5 627V628M1249.5 627V628M1250.5 628V630M1251.5 630V632M1252.5 632V633M1253.5 633V634M1254.5 634V635M1255.5 634V635M1256.5 633V634M1257.5 633V634M1258.5 633V635M1259.5 635V637M1260.5 637V641M1261.5 641V646M1262.5 646V654M1263.5 654V664M1264.5 664V675M1265.5 675V686M1266.5 686V696M1267.5 696V706M1268.5 706V711" stroke="#ff0000" stroke-width="1" fill="none" shape-rendering="crispEdges"/>
<g stroke="#000" stroke-width="1" fill="none" shape-rendering="crispEdges">
<path d="M1.5 606.5V1.5H1385.5V606.5H1.5"/>
<path d="M1.5 790.5V608.5H1385.5V790.5H1.5"/>
<line x1="1386" y1="9.5" x2="1388" y2="9.5"/>
<line x1="1386" y1="42.5" x2="1388" y2="42.5"/>
<line x1="1386" y1="75.5" x2="1388" y2="75.5"/>
<line x1="1386" y1="108.5" x2="1388" y2="108.5"/>
<line x1="1386" y1="141.5" x2="1388" y2="141.5"/>
<line x1="1386" y1="174.5" x2="1388" y2="174.5"/>
<line x1="1386" y1="207.5" x2="1388" y2="207.5"/>
<line x1="1386" y1="240.5" x2="1388" y2="240.5"/>
<line x1="1386" y1="273.5" x2="1388" y2="273.5"/>
<line x1="1386" y1="306.5" x2="1388" y2="306.5"/>
<line x1="1386" y1="339.5" x2="1388" y2="339.5"/>
<line x1="1386" y1="372.5" x2="1388" y2="372.5"/>
<line x1="1386" y1="405.5" x2="1388" y2="405.5"/>
<line x1="1386" y1="438.5" x2="1388" y2="438.5"/>
<line x1="1386" y1="471.5" x2="1388" y2="471.5"/>
<line x1="1386" y1="504.5" x2="1388" y2="504.5"/>
<line x1="1386" y1="537.5" x2="1388" y2="537.5"/>
<line x1="1386" y1="570.5" x2="1388" y2="570.5"/>
<line x1="1386" y1="603.5" x2="1388" y2="603.5"/>
<line x1="1386" y1="610.5" x2="1388" y2="610.5"/>
<line x1="1386" y1="645.5" x2="1388" y2="645.5"/>
<line x1="1386" y1="753.5" x2="1388" y2="753.5"/>
<line x1="1386" y1="788.5" x2="1388" y2="788.5"/>
<line x1="2.5" y1="791" x2="2.5" y2="794"/>
<line x1="66.5" y1="791" x2="66.5" y2="794"/>
<line x1="130.5" y1="791" x2="130.5" y2="794"/>
<line x1="194.5" y1="791" x2="194.5" y2="794"/>
<line x1="258.5" y1="791" x2="258.5" y2="794"/>
<line x1="322.5" y1="791" x2="322.5" y2="794"/>
<line x1="386.5" y1="791" x2="386.5" y2="794"/>
<line x1="450.5" y1="791" x2="450.5" y2="794"/>
<line x1="514.5" y1="791" x2="514.5" y2="794"/>
<line x1="578.5" y1="791" x2="578.5" y2="794"/>
<line x1="642.5" y1="791" x2="642.5" y2="794"/>
<line x1="706.5" y1="791" x2="706.5" y2="794"/>
<line x1="770.5" y1="791" x2="770.5" y2="794"/>
<line x1="834.5" y1="791" x2="834.5" y2="794"/>
<line x1="898.5" y1="791" x2="898.5" y2="794"/>
<line x1="962.5" y1="791" x2="962.5" y2="794"/>
<line x1="1026.5" y1="791" x2="1026.5" y2="794"/>
<line x1="1090.5" y1="791" x2="1090.5" y2="794"/>
<line x1="1154.5" y1="791" x2="1154.5" y2="794"/>
<line x1="1218.5" y1="791" x2="1218.5" y2="794"/>
</g>
<rect x="1387" y="57" width="40" height="11" fill="#000"/>
<path d="M5 8H12L8.5 12Z" fill="#000" shape-rendering="crispEdges"/>
<path d="M2 785L7 790H2Z" fill="#c8c8c8"/>
<path d="M992 2H1001L996.5 7Z" fill="#b4b4b4"/>
<defs><linearGradient id="g1" x1="0" y1="0" x2="1" y2="1"><stop offset="0" stop-color="#f2f2f2"/><stop offset="1" stop-color="#8c8c8c"/></linearGradient>
<filter id="sh" x="-20%" y="-60%" width="140%" height="220%"><feGaussianBlur in="SourceAlpha" stdDeviation="1.9" result="b"/><feOffset in="b" dy="0.6" result="o"/><feComponentTransfer in="o" result="s"><feFuncA type="linear" slope="0.75"/></feComponentTransfer><feFlood flood-color="#7a7a7a"/><feComposite in2="s" operator="in" result="c"/><feMerge><feMergeNode in="c"/><feMergeNode in="c"/><feMergeNode in="SourceGraphic"/></feMerge></filter></defs>
<polygon points="1328.2,788.3 1340.6,775.9 1340.6,779.3 1331.6,788.3" fill="url(#g1)"/>
<polygon points="1331.6,788.3 1340.6,779.3 1340.6,782.6 1334.9,788.3" fill="#484848"/>
<polygon points="1340.6,775.9 1353.0,788.3 1349.6,788.3 1340.6,779.3" fill="#555"/>
<polygon points="1340.6,779.3 1349.6,788.3 1346.3,788.3 1340.6,782.6" fill="#a8a8a8"/>
<polygon points="1328.2,788.3 1340.6,800.7 1340.6,797.3 1331.6,788.3" fill="#e2cc1e"/>
<polygon points="1331.6,788.3 1340.6,797.3 1340.6,794.0 1334.9,788.3" fill="#4a3812"/>
<polygon points="1340.6,800.7 1353.0,788.3 1349.6,788.3 1340.6,797.3" fill="#5a4414"/>
<polygon points="1340.6,797.3 1349.6,788.3 1346.3,788.3 1340.6,794.0" fill="#b8961e"/>
<polygon points="1340.6,785.3 1343.6,788.3 1340.6,791.3 1337.6,788.3" fill="#fff" stroke="#6aa01f" stroke-width="1.3"/>
<g filter="url(#sh)">
<text x="1359.2" y="787.0" stroke="#fff" stroke-width="0.35" font-family="Liberation Sans, sans-serif" font-weight="bold" font-size="9.9" transform="rotate(0.03 1388 787)" fill="#fff" textLength="57.8" lengthAdjust="spacingAndGlyphs">SINO SOUND</text>
<path d="M1359.40 789.30h1.1v1.02h-1.1zM1360.45 789.30h1.1v1.02h-1.1zM1362.55 789.30h1.1v1.02h-1.1zM1363.60 789.30h1.1v1.02h-1.1zM1364.65 789.30h1.1v1.02h-1.1zM1365.70 789.30h1.1v1.02h-1.1zM1366.75 789.30h1.1v1.02h-1.1zM1360.45 790.28h1.1v1.02h-1.1zM1361.50 790.28h1.1v1.02h-1.1zM1363.60 790.28h1.1v1.02h-1.1zM1364.65 790.28h1.1v1.02h-1.1zM1365.70 790.28h1.1v1.02h-1.1zM1359.40 791.26h1.1v1.02h-1.1zM1362.55 791.26h1.1v1.02h-1.1zM1363.60 791.26h1.1v1.02h-1.1zM1364.65 791.26h1.1v1.02h-1.1zM1365.70 791.26h1.1v1.02h-1.1zM1366.75 791.26h1.1v1.02h-1.1zM1359.40 792.24h1.1v1.02h-1.1zM1360.45 792.24h1.1v1.02h-1.1zM1363.60 792.24h1.1v1.02h-1.1zM1364.65 792.24h1.1v1.02h-1.1zM1365.70 792.24h1.1v1.02h-1.1zM1360.45 793.22h1.1v1.02h-1.1zM1362.55 793.22h1.1v1.02h-1.1zM1363.60 793.22h1.1v1.02h-1.1zM1364.65 793.22h1.1v1.02h-1.1zM1365.70 793.22h1.1v1.02h-1.1zM1366.75 793.22h1.1v1.02h-1.1zM1362.55 794.20h1.1v1.02h-1.1zM1363.60 794.20h1.1v1.02h-1.1zM1364.65 794.20h1.1v1.02h-1.1zM1365.70 794.20h1.1v1.02h-1.1zM1359.40 795.18h1.1v1.02h-1.1zM1360.45 795.18h1.1v1.02h-1.1zM1362.55 795.18h1.1v1.02h-1.1zM1363.60 795.18h1.1v1.02h-1.1zM1365.70 795.18h1.1v1.02h-1.1zM1366.75 795.18h1.1v1.02h-1.1zM1359.40 796.16h1.1v1.02h-1.1zM1361.50 796.16h1.1v1.02h-1.1zM1362.55 796.16h1.1v1.02h-1.1zM1366.75 796.16h1.1v1.02h-1.1zM1375.70 789.30h1.1v1.02h-1.1zM1376.75 789.30h1.1v1.02h-1.1zM1377.80 789.30h1.1v1.02h-1.1zM1378.85 789.30h1.1v1.02h-1.1zM1379.90 789.30h1.1v1.02h-1.1zM1382.00 789.30h1.1v1.02h-1.1zM1383.05 789.30h1.1v1.02h-1.1zM1376.75 790.28h1.1v1.02h-1.1zM1377.80 790.28h1.1v1.02h-1.1zM1378.85 790.28h1.1v1.02h-1.1zM1380.95 790.28h1.1v1.02h-1.1zM1382.00 790.28h1.1v1.02h-1.1zM1383.05 790.28h1.1v1.02h-1.1zM1375.70 791.26h1.1v1.02h-1.1zM1376.75 791.26h1.1v1.02h-1.1zM1377.80 791.26h1.1v1.02h-1.1zM1378.85 791.26h1.1v1.02h-1.1zM1379.90 791.26h1.1v1.02h-1.1zM1380.95 791.26h1.1v1.02h-1.1zM1382.00 791.26h1.1v1.02h-1.1zM1376.75 792.24h1.1v1.02h-1.1zM1377.80 792.24h1.1v1.02h-1.1zM1378.85 792.24h1.1v1.02h-1.1zM1379.90 792.24h1.1v1.02h-1.1zM1380.95 792.24h1.1v1.02h-1.1zM1382.00 792.24h1.1v1.02h-1.1zM1376.75 793.22h1.1v1.02h-1.1zM1377.80 793.22h1.1v1.02h-1.1zM1378.85 793.22h1.1v1.02h-1.1zM1379.90 793.22h1.1v1.02h-1.1zM1380.95 793.22h1.1v1.02h-1.1zM1382.00 793.22h1.1v1.02h-1.1zM1376.75 794.20h1.1v1.02h-1.1zM1377.80 794.20h1.1v1.02h-1.1zM1378.85 794.20h1.1v1.02h-1.1zM1379.90 794.20h1.1v1.02h-1.1zM1380.95 794.20h1.1v1.02h-1.1zM1382.00 794.20h1.1v1.02h-1.1zM1376.75 795.18h1.1v1.02h-1.1zM1377.80 795.18h1.1v1.02h-1.1zM1380.95 795.18h1.1v1.02h-1.1zM1382.00 795.18h1.1v1.02h-1.1zM1375.70 796.16h1.1v1.02h-1.1zM1376.75 796.16h1.1v1.02h-1.1zM1377.80 796.16h1.1v1.02h-1.1zM1378.85 796.16h1.1v1.02h-1.1zM1379.90 796.16h1.1v1.02h-1.1zM1380.95 796.16h1.1v1.02h-1.1zM1382.00 796.16h1.1v1.02h-1.1zM1383.05 796.16h1.1v1.02h-1.1zM1393.05 789.30h1.1v1.02h-1.1zM1394.10 789.30h1.1v1.02h-1.1zM1395.15 789.30h1.1v1.02h-1.1zM1396.20 789.30h1.1v1.02h-1.1zM1392.00 790.28h1.1v1.02h-1.1zM1393.05 790.28h1.1v1.02h-1.1zM1394.10 790.28h1.1v1.02h-1.1zM1395.15 790.28h1.1v1.02h-1.1zM1396.20 790.28h1.1v1.02h-1.1zM1397.25 790.28h1.1v1.02h-1.1zM1398.30 790.28h1.1v1.02h-1.1zM1393.05 791.26h1.1v1.02h-1.1zM1394.10 791.26h1.1v1.02h-1.1zM1395.15 791.26h1.1v1.02h-1.1zM1396.20 791.26h1.1v1.02h-1.1zM1397.25 791.26h1.1v1.02h-1.1zM1398.30 791.26h1.1v1.02h-1.1zM1393.05 792.24h1.1v1.02h-1.1zM1394.10 792.24h1.1v1.02h-1.1zM1395.15 792.24h1.1v1.02h-1.1zM1396.20 792.24h1.1v1.02h-1.1zM1397.25 792.24h1.1v1.02h-1.1zM1398.30 792.24h1.1v1.02h-1.1zM1394.10 793.22h1.1v1.02h-1.1zM1395.15 793.22h1.1v1.02h-1.1zM1396.20 793.22h1.1v1.02h-1.1zM1392.00 794.20h1.1v1.02h-1.1zM1393.05 794.20h1.1v1.02h-1.1zM1394.10 794.20h1.1v1.02h-1.1zM1395.15 794.20h1.1v1.02h-1.1zM1396.20 794.20h1.1v1.02h-1.1zM1397.25 794.20h1.1v1.02h-1.1zM1398.30 794.20h1.1v1.02h-1.1zM1399.35 794.20h1.1v1.02h-1.1zM1393.05 795.18h1.1v1.02h-1.1zM1394.10 795.18h1.1v1.02h-1.1zM1395.15 795.18h1.1v1.02h-1.1zM1396.20 795.18h1.1v1.02h-1.1zM1397.25 795.18h1.1v1.02h-1.1zM1392.00 796.16h1.1v1.02h-1.1zM1393.05 796.16h1.1v1.02h-1.1zM1395.15 796.16h1.1v1.02h-1.1zM1396.20 796.16h1.1v1.02h-1.1zM1398.30 796.16h1.1v1.02h-1.1zM1399.35 796.16h1.1v1.02h-1.1zM1408.30 789.30h1.1v1.02h-1.1zM1409.35 789.30h1.1v1.02h-1.1zM1410.40 789.30h1.1v1.02h-1.1zM1411.45 789.30h1.1v1.02h-1.1zM1412.50 789.30h1.1v1.02h-1.1zM1413.55 789.30h1.1v1.02h-1.1zM1414.60 789.30h1.1v1.02h-1.1zM1415.65 789.30h1.1v1.02h-1.1zM1408.30 790.28h1.1v1.02h-1.1zM1409.35 790.28h1.1v1.02h-1.1zM1411.45 790.28h1.1v1.02h-1.1zM1412.50 790.28h1.1v1.02h-1.1zM1414.60 790.28h1.1v1.02h-1.1zM1415.65 790.28h1.1v1.02h-1.1zM1408.30 791.26h1.1v1.02h-1.1zM1410.40 791.26h1.1v1.02h-1.1zM1411.45 791.26h1.1v1.02h-1.1zM1412.50 791.26h1.1v1.02h-1.1zM1413.55 791.26h1.1v1.02h-1.1zM1415.65 791.26h1.1v1.02h-1.1zM1408.30 792.24h1.1v1.02h-1.1zM1410.40 792.24h1.1v1.02h-1.1zM1411.45 792.24h1.1v1.02h-1.1zM1412.50 792.24h1.1v1.02h-1.1zM1413.55 792.24h1.1v1.02h-1.1zM1415.65 792.24h1.1v1.02h-1.1zM1408.30 793.22h1.1v1.02h-1.1zM1410.40 793.22h1.1v1.02h-1.1zM1411.45 793.22h1.1v1.02h-1.1zM1412.50 793.22h1.1v1.02h-1.1zM1413.55 793.22h1.1v1.02h-1.1zM1415.65 793.22h1.1v1.02h-1.1zM1408.30 794.20h1.1v1.02h-1.1zM1410.40 794.20h1.1v1.02h-1.1zM1411.45 794.20h1.1v1.02h-1.1zM1412.50 794.20h1.1v1.02h-1.1zM1413.55 794.20h1.1v1.02h-1.1zM1415.65 794.20h1.1v1.02h-1.1zM1408.30 795.18h1.1v1.02h-1.1zM1409.35 795.18h1.1v1.02h-1.1zM1414.60 795.18h1.1v1.02h-1.1zM1415.65 795.18h1.1v1.02h-1.1zM1408.30 796.16h1.1v1.02h-1.1zM1409.35 796.16h1.1v1.02h-1.1zM1410.40 796.16h1.1v1.02h-1.1zM1411.45 796.16h1.1v1.02h-1.1zM1412.50 796.16h1.1v1.02h-1.1zM1413.55 796.16h1.1v1.02h-1.1zM1414.60 796.16h1.1v1.02h-1.1zM1415.65 796.16h1.1v1.02h-1.1z" fill="#fff"/>
</g>
</svg>
<div class="t ti" id="title" style="left:17px;top:5.2px;">GOLD,H4&nbsp; 2126.83 2131.34 2124.07 2125.63</div>
<div class="t ti" id="sto" style="left:6px;top:612.7px;">Sto(5,3,3) 32.3079 44.2016</div>
<div class="t pl" style="left:1391px;top:5.3px;">2156.45</div>
<div class="t pl" style="left:1391px;top:38.3px;">2137.20</div>
<div class="t pl" style="left:1391px;top:71.3px;">2118.50</div>
<div class="t pl" style="left:1391px;top:104.3px;">2099.25</div>
<div class="t pl" style="left:1391px;top:137.3px;">2080.55</div>
<div class="t pl" style="left:1391px;top:170.3px;">2061.30</div>
<div class="t pl" style="left:1391px;top:203.3px;">2042.60</div>
<div class="t pl" style="left:1391px;top:236.3px;">2023.35</div>
<div class="t pl" style="left:1391px;top:269.3px;">2004.10</div>
<div class="t pl" style="left:1391px;top:302.3px;">1985.40</div>
<div class="t pl" style="left:1391px;top:335.3px;">1966.15</div>
<div class="t pl" style="left:1391px;top:368.3px;">1947.45</div>
<div class="t pl" style="left:1391px;top:401.3px;">1928.20</div>
<div class="t pl" style="left:1391px;top:434.3px;">1908.95</div>
<div class="t pl" style="left:1391px;top:467.3px;">1890.25</div>
<div class="t pl" style="left:1391px;top:500.3px;">1871.00</div>
<div class="t pl" style="left:1391px;top:533.3px;">1852.30</div>
<div class="t pl" style="left:1391px;top:566.3px;">1833.05</div>
<div class="t pl" style="left:1391px;top:599.3px;">1814.35</div>
<div class="t pl" style="left:1391px;top:57.8px;color:#fff;">2125.63</div>
<div class="t f" style="right:43px;top:20.5px;">0.0</div>
<div class="t f" style="right:43px;top:156.5px;">23.6</div>
<div class="t f" style="right:43px;top:241.5px;">38.2</div>
<div class="t f" style="right:43px;top:309.5px;">50.0</div>
<div class="t f" style="right:43px;top:377.5px;">61.8</div>
<div class="t f" style="right:43px;top:462.5px;">76.4</div>
<div class="t f" style="right:43px;top:598.5px;height:7.5px;overflow:hidden;">100.0</div>
<div class="t pl" style="left:1389px;top:610.8px;">100</div>
<div class="t pl" style="left:1388.5px;top:640.6px;">80</div>
<div class="t pl" style="left:1388.5px;top:748.7px;">20</div>
<div class="t tl" style="left:1px;top:794.5px;">6 Oct 2023</div>
<div class="t tl" style="left:65px;top:794.5px;">16 Oct 06:00</div>
<div class="t tl" style="left:129px;top:794.5px;">23 Oct 14:00</div>
<div class="t tl" style="left:193px;top:794.5px;">30 Oct 22:00</div>
<div class="t tl" style="left:257px;top:794.5px;">7 Nov 07:00</div>
<div class="t tl" style="left:321px;top:794.5px;">14 Nov 15:00</div>
<div class="t tl" style="left:385px;top:794.5px;">21 Nov 23:00</div>
<div class="t tl" style="left:449px;top:794.5px;">29 Nov 11:00</div>
<div class="t tl" style="left:513px;top:794.5px;">6 Dec 19:00</div>
<div class="t tl" style="left:577px;top:794.5px;">14 Dec 03:00</div>
<div class="t tl" style="left:641px;top:794.5px;">21 Dec 11:00</div>
<div class="t tl" style="left:705px;top:794.5px;">29 Dec 19:00</div>
<div class="t tl" style="left:769px;top:794.5px;">9 Jan 03:00</div>
<div class="t tl" style="left:833px;top:794.5px;">16 Jan 11:00</div>
<div class="t tl" style="left:897px;top:794.5px;">23 Jan 19:00</div>
<div class="t tl" style="left:961px;top:794.5px;">31 Jan 03:00</div>
<div class="t tl" style="left:1025px;top:794.5px;">7 Feb 11:00</div>
<div class="t tl" style="left:1089px;top:794.5px;">14 Feb 19:00</div>
<div class="t tl" style="left:1153px;top:794.5px;">22 Feb 03:00</div>
<div class="t tl" style="left:1217px;top:794.5px;">29 Feb 11:00</div>
</body></html>
